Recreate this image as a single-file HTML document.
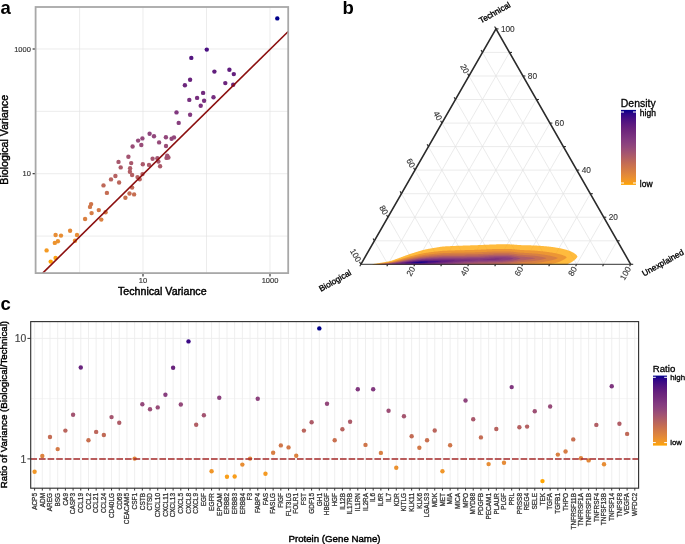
<!DOCTYPE html>
<html lang="en">
<head>
<meta charset="utf-8">
<title>Variance decomposition figure</title>
<style>
html,body{margin:0;padding:0;background:#fff;}
body{width:685px;height:544px;overflow:hidden;}
svg{display:block;font-family:"Liberation Sans", sans-serif;will-change:transform;}
.ga{stroke:#e4e4e4;stroke-width:0.7;}
.gb{stroke:#e2e2e2;stroke-width:0.7;}
.gc{stroke:#ececec;stroke-width:0.85;}
.gc2{stroke:#efefef;stroke-width:0.7;}
.tk{stroke:#222;stroke-width:1.1;}
.tb{stroke:#2b2b2b;stroke-width:1.1;}
.tc{stroke:#333;stroke-width:1.0;}
.ta{font-size:7.5px;fill:#333;stroke:#333;stroke-width:0.15;}
.ti{font-size:10.65px;fill:#000;stroke:#000;stroke-width:0.42;}
.pl{font-size:18.5px;font-weight:bold;fill:#000;}
.tl{font-size:8.3px;fill:#333;stroke:#333;stroke-width:0.12;}
.tn{font-size:8.3px;fill:#000;stroke:#000;stroke-width:0.33;}
.lt{font-size:10.45px;fill:#000;stroke:#000;stroke-width:0.3;}
.ll{font-size:8.5px;fill:#000;stroke:#000;stroke-width:0.3;}
.ltc{font-size:9.65px;fill:#000;stroke:#000;stroke-width:0.3;}
.llc{font-size:7.9px;fill:#000;stroke:#000;stroke-width:0.3;}
.tcy{font-size:10.4px;fill:#444;stroke:#444;stroke-width:0.15;}
.tic{font-size:9.7px;fill:#000;stroke:#000;stroke-width:0.42;}
.tcx{font-size:6.45px;fill:#333;stroke:#333;stroke-width:0.28;}
</style>
</head>
<body>
<svg width="685" height="544" viewBox="0 0 685 544">
<defs>
<linearGradient id="gr" x1="0" y1="0" x2="0" y2="1"><stop offset="0.00" stop-color="#00008b"/><stop offset="0.05" stop-color="#2c0588"/><stop offset="0.10" stop-color="#400c84"/><stop offset="0.15" stop-color="#501481"/><stop offset="0.20" stop-color="#5e1b7f"/><stop offset="0.25" stop-color="#69237d"/><stop offset="0.30" stop-color="#722a7d"/><stop offset="0.35" stop-color="#7a327f"/><stop offset="0.40" stop-color="#833a80"/><stop offset="0.45" stop-color="#8b417e"/><stop offset="0.50" stop-color="#94497a"/><stop offset="0.55" stop-color="#9f5174"/><stop offset="0.60" stop-color="#aa596b"/><stop offset="0.65" stop-color="#b56261"/><stop offset="0.70" stop-color="#c16a56"/><stop offset="0.75" stop-color="#cc734d"/><stop offset="0.80" stop-color="#d57c45"/><stop offset="0.85" stop-color="#df853d"/><stop offset="0.90" stop-color="#e98f32"/><stop offset="0.95" stop-color="#f39924"/><stop offset="1.00" stop-color="#ffa500"/></linearGradient>
<clipPath id="tri"><path d="M360.9,265.0L496.0,28.9L630.7,265.0Z"/></clipPath>
</defs>
<rect width="685" height="544" fill="#fff"/>
<line x1="79.6" y1="7.0" x2="79.6" y2="273.1" class="ga"/>
<line x1="143.0" y1="7.0" x2="143.0" y2="273.1" class="ga"/>
<line x1="206.5" y1="7.0" x2="206.5" y2="273.1" class="ga"/>
<line x1="270.0" y1="7.0" x2="270.0" y2="273.1" class="ga"/>
<line x1="35.6" y1="49.0" x2="288.2" y2="49.0" class="ga"/>
<line x1="35.6" y1="111.35" x2="288.2" y2="111.35" class="ga"/>
<line x1="35.6" y1="173.7" x2="288.2" y2="173.7" class="ga"/>
<line x1="35.6" y1="236.05" x2="288.2" y2="236.05" class="ga"/>
<circle cx="50.7" cy="261.6" r="2.2" fill="#fea403"/>
<circle cx="55.6" cy="257.9" r="2.2" fill="#fba013"/>
<circle cx="46.6" cy="250.4" r="2.2" fill="#f49a23"/>
<circle cx="54.8" cy="242.9" r="2.2" fill="#ed932d"/>
<circle cx="57.9" cy="241.2" r="2.2" fill="#ec922f"/>
<circle cx="75.0" cy="240.7" r="2.2" fill="#eb912f"/>
<circle cx="61.0" cy="235.6" r="2.2" fill="#e78d34"/>
<circle cx="55.6" cy="235.0" r="2.2" fill="#e78d35"/>
<circle cx="77.0" cy="235.0" r="2.2" fill="#e78d35"/>
<circle cx="70.1" cy="230.7" r="2.2" fill="#e38938"/>
<circle cx="101.3" cy="219.6" r="2.2" fill="#da8141"/>
<circle cx="85.1" cy="219.0" r="2.2" fill="#da8041"/>
<circle cx="91.6" cy="213.1" r="2.2" fill="#d57c45"/>
<circle cx="105.6" cy="212.2" r="2.2" fill="#d57b46"/>
<circle cx="98.8" cy="210.1" r="2.2" fill="#d37947"/>
<circle cx="90.0" cy="206.9" r="2.2" fill="#d07749"/>
<circle cx="91.1" cy="204.1" r="2.2" fill="#ce754a"/>
<circle cx="125.4" cy="197.8" r="2.2" fill="#c8714f"/>
<circle cx="134.1" cy="194.4" r="2.2" fill="#c66e51"/>
<circle cx="129.5" cy="193.5" r="2.2" fill="#c56d53"/>
<circle cx="106.9" cy="192.9" r="2.2" fill="#c56d53"/>
<circle cx="132.1" cy="187.6" r="2.2" fill="#c06957"/>
<circle cx="103.5" cy="185.4" r="2.2" fill="#be6859"/>
<circle cx="119.1" cy="182.5" r="2.2" fill="#bb665b"/>
<circle cx="111.0" cy="179.4" r="2.2" fill="#b8645f"/>
<circle cx="139.7" cy="179.3" r="2.2" fill="#b8635f"/>
<circle cx="137.5" cy="177.1" r="2.2" fill="#b66261"/>
<circle cx="115.4" cy="176.0" r="2.2" fill="#b56161"/>
<circle cx="132.1" cy="175.0" r="2.2" fill="#b46063"/>
<circle cx="142.5" cy="174.1" r="2.2" fill="#b36063"/>
<circle cx="129.9" cy="171.8" r="2.2" fill="#b15e65"/>
<circle cx="130.1" cy="168.2" r="2.2" fill="#ad5c68"/>
<circle cx="120.7" cy="167.4" r="2.2" fill="#ac5b69"/>
<circle cx="160.1" cy="166.2" r="2.2" fill="#ab5a69"/>
<circle cx="149.0" cy="164.9" r="2.2" fill="#aa5a6b"/>
<circle cx="142.8" cy="164.3" r="2.2" fill="#aa596b"/>
<circle cx="131.2" cy="163.1" r="2.2" fill="#a8586c"/>
<circle cx="118.5" cy="161.9" r="2.2" fill="#a7586d"/>
<circle cx="158.4" cy="161.6" r="2.2" fill="#a7576d"/>
<circle cx="152.6" cy="158.7" r="2.2" fill="#a5556f"/>
<circle cx="157.4" cy="158.2" r="2.2" fill="#a45570"/>
<circle cx="166.5" cy="157.9" r="2.2" fill="#a45570"/>
<circle cx="168.4" cy="157.5" r="2.2" fill="#a45570"/>
<circle cx="128.4" cy="156.8" r="2.2" fill="#a35471"/>
<circle cx="167.2" cy="155.7" r="2.2" fill="#a15372"/>
<circle cx="132.6" cy="146.5" r="2.2" fill="#994d77"/>
<circle cx="166.0" cy="146.0" r="2.2" fill="#994d77"/>
<circle cx="141.3" cy="145.0" r="2.2" fill="#984c78"/>
<circle cx="159.1" cy="142.4" r="2.2" fill="#964b7a"/>
<circle cx="138.1" cy="140.6" r="2.2" fill="#94497a"/>
<circle cx="171.6" cy="138.7" r="2.2" fill="#93487b"/>
<circle cx="142.4" cy="138.4" r="2.2" fill="#93487b"/>
<circle cx="174.0" cy="137.4" r="2.2" fill="#92477b"/>
<circle cx="165.9" cy="137.2" r="2.2" fill="#92477b"/>
<circle cx="154.0" cy="136.2" r="2.2" fill="#91477c"/>
<circle cx="149.6" cy="133.8" r="2.2" fill="#8f457d"/>
<circle cx="178.7" cy="122.9" r="2.2" fill="#873e7e"/>
<circle cx="190.1" cy="114.7" r="2.2" fill="#82397f"/>
<circle cx="176.5" cy="112.4" r="2.2" fill="#80377f"/>
<circle cx="200.7" cy="105.7" r="2.2" fill="#7b337f"/>
<circle cx="204.1" cy="100.7" r="2.2" fill="#78307f"/>
<circle cx="189.3" cy="99.9" r="2.2" fill="#77307f"/>
<circle cx="197.1" cy="97.9" r="2.2" fill="#772e7e"/>
<circle cx="213.5" cy="97.2" r="2.2" fill="#762e7f"/>
<circle cx="203.1" cy="92.9" r="2.2" fill="#722b7e"/>
<circle cx="184.9" cy="85.3" r="2.2" fill="#6d277d"/>
<circle cx="233.2" cy="84.7" r="2.2" fill="#6d267d"/>
<circle cx="225.3" cy="83.1" r="2.2" fill="#6b257d"/>
<circle cx="190.1" cy="79.7" r="2.2" fill="#69237d"/>
<circle cx="233.8" cy="74.1" r="2.2" fill="#64207e"/>
<circle cx="214.4" cy="71.6" r="2.2" fill="#611e7d"/>
<circle cx="229.4" cy="69.7" r="2.2" fill="#601d7e"/>
<circle cx="191.3" cy="57.9" r="2.2" fill="#541680"/>
<circle cx="206.8" cy="49.6" r="2.2" fill="#4a1082"/>
<circle cx="277.3" cy="18.4" r="2.2" fill="#00008b"/>
<line x1="42.7" y1="273.1" x2="288.2" y2="31.5" stroke="#8b0f0f" stroke-width="1.6"/>
<rect x="35.6" y="7.0" width="252.6" height="266.1" fill="none" stroke="#a8a8a8" stroke-width="1.8"/>
<line x1="32.6" y1="49.0" x2="34.800000000000004" y2="49.0" class="tk"/>
<text x="30.9" y="51.5" class="ta" text-anchor="end">1000</text>
<line x1="32.6" y1="173.7" x2="34.800000000000004" y2="173.7" class="tk"/>
<text x="30.9" y="176.2" class="ta" text-anchor="end">10</text>
<line x1="143.0" y1="273.90000000000003" x2="143.0" y2="276.40000000000003" class="tk"/>
<text x="143.0" y="283.2" class="ta" text-anchor="middle">10</text>
<line x1="270.0" y1="273.90000000000003" x2="270.0" y2="276.40000000000003" class="tk"/>
<text x="270.0" y="283.2" class="ta" text-anchor="middle">1000</text>
<text x="162.3" y="295.3" class="ti" text-anchor="middle">Technical Variance</text>
<text transform="translate(8.0,139.8) rotate(-90)" class="ti" text-anchor="middle">Biological Variance</text>
<text x="0.4" y="13.7" class="pl">a</text>
<line x1="374.4" y1="240.8" x2="617.2" y2="240.8" class="gb"/>
<line x1="374.4" y1="240.8" x2="387.9" y2="264.3" class="gb"/>
<line x1="617.2" y1="240.8" x2="603.7" y2="264.3" class="gb"/>
<line x1="387.9" y1="217.2" x2="603.8" y2="217.2" class="gb"/>
<line x1="387.9" y1="217.2" x2="414.9" y2="264.3" class="gb"/>
<line x1="603.8" y1="217.2" x2="576.7" y2="264.3" class="gb"/>
<line x1="401.4" y1="193.7" x2="590.3" y2="193.7" class="gb"/>
<line x1="401.4" y1="193.7" x2="441.8" y2="264.3" class="gb"/>
<line x1="590.3" y1="193.7" x2="549.8" y2="264.3" class="gb"/>
<line x1="414.9" y1="170.1" x2="576.8" y2="170.1" class="gb"/>
<line x1="414.9" y1="170.1" x2="468.8" y2="264.3" class="gb"/>
<line x1="576.8" y1="170.1" x2="522.8" y2="264.3" class="gb"/>
<line x1="428.4" y1="146.6" x2="563.4" y2="146.6" class="gb"/>
<line x1="428.4" y1="146.6" x2="495.8" y2="264.3" class="gb"/>
<line x1="563.4" y1="146.6" x2="495.8" y2="264.3" class="gb"/>
<line x1="442.0" y1="123.1" x2="549.9" y2="123.1" class="gb"/>
<line x1="442.0" y1="123.1" x2="522.8" y2="264.3" class="gb"/>
<line x1="549.9" y1="123.1" x2="468.8" y2="264.3" class="gb"/>
<line x1="455.5" y1="99.5" x2="536.4" y2="99.5" class="gb"/>
<line x1="455.5" y1="99.5" x2="549.8" y2="264.3" class="gb"/>
<line x1="536.4" y1="99.5" x2="441.8" y2="264.3" class="gb"/>
<line x1="469.0" y1="76.0" x2="522.9" y2="76.0" class="gb"/>
<line x1="469.0" y1="76.0" x2="576.7" y2="264.3" class="gb"/>
<line x1="522.9" y1="76.0" x2="414.9" y2="264.3" class="gb"/>
<line x1="482.5" y1="52.4" x2="509.5" y2="52.4" class="gb"/>
<line x1="482.5" y1="52.4" x2="603.7" y2="264.3" class="gb"/>
<line x1="509.5" y1="52.4" x2="387.9" y2="264.3" class="gb"/>
<g clip-path="url(#tri)">
<path d="M372.5,264.30L373.0,264.13L373.5,264.02L374.0,263.91L374.5,263.82L375.0,263.73L375.5,263.64L376.0,263.55L376.5,263.47L377.0,263.39L377.5,263.31L378.0,263.22L378.5,263.14L379.0,263.06L379.5,262.98L380.0,262.90L380.5,262.82L381.0,262.74L381.5,262.66L382.0,262.57L382.5,262.49L383.0,262.40L383.5,262.32L384.0,262.23L384.5,262.14L385.0,262.06L385.5,261.97L386.0,261.88L386.5,261.79L387.0,261.70L387.5,261.61L388.0,261.51L388.5,261.40L389.0,261.29L389.5,261.17L390.0,261.05L390.5,260.91L391.0,260.78L391.5,260.63L392.0,260.48L392.5,260.32L393.0,260.15L393.5,259.98L394.0,259.80L394.5,259.63L395.0,259.45L395.5,259.28L396.0,259.10L396.5,258.92L397.0,258.74L397.5,258.56L398.0,258.38L398.5,258.20L399.0,258.02L399.5,257.84L400.0,257.65L400.5,257.47L401.0,257.28L401.5,257.10L402.0,256.91L402.5,256.72L403.0,256.54L403.5,256.35L404.0,256.16L404.5,255.97L405.0,255.79L405.5,255.60L406.0,255.42L406.5,255.24L407.0,255.06L407.5,254.88L408.0,254.70L408.5,254.53L409.0,254.35L409.5,254.18L410.0,254.02L410.5,253.85L411.0,253.69L411.5,253.53L412.0,253.37L412.5,253.21L413.0,253.06L413.5,252.90L414.0,252.74L414.5,252.58L415.0,252.43L415.5,252.27L416.0,252.11L416.5,251.95L417.0,251.80L417.5,251.64L418.0,251.48L418.5,251.33L419.0,251.18L419.5,251.02L420.0,250.88L420.5,250.73L421.0,250.59L421.5,250.45L422.0,250.31L422.5,250.17L423.0,250.04L423.5,249.91L424.0,249.79L424.5,249.67L425.0,249.56L425.5,249.45L426.0,249.34L426.5,249.23L427.0,249.13L427.5,249.04L428.0,248.95L428.5,248.86L429.0,248.77L429.5,248.68L430.0,248.60L430.5,248.51L431.0,248.42L431.5,248.34L432.0,248.25L432.5,248.17L433.0,248.08L433.5,248.00L434.0,247.91L434.5,247.83L435.0,247.74L435.5,247.66L436.0,247.58L436.5,247.49L437.0,247.41L437.5,247.33L438.0,247.24L438.5,247.16L439.0,247.08L439.5,247.00L440.0,246.92L440.5,246.84L441.0,246.77L441.5,246.71L442.0,246.65L442.5,246.59L443.0,246.54L443.5,246.50L444.0,246.45L444.5,246.41L445.0,246.38L445.5,246.35L446.0,246.33L446.5,246.30L447.0,246.28L447.5,246.25L448.0,246.23L448.5,246.20L449.0,246.18L449.5,246.16L450.0,246.13L450.5,246.11L451.0,246.08L451.5,246.06L452.0,246.04L452.5,246.01L453.0,245.99L453.5,245.97L454.0,245.95L454.5,245.92L455.0,245.90L455.5,245.88L456.0,245.86L456.5,245.83L457.0,245.81L457.5,245.79L458.0,245.77L458.5,245.75L459.0,245.74L459.5,245.72L460.0,245.70L460.5,245.69L461.0,245.67L461.5,245.66L462.0,245.64L462.5,245.63L463.0,245.61L463.5,245.60L464.0,245.58L464.5,245.56L465.0,245.54L465.5,245.53L466.0,245.51L466.5,245.49L467.0,245.48L467.5,245.46L468.0,245.44L468.5,245.43L469.0,245.41L469.5,245.40L470.0,245.38L470.5,245.36L471.0,245.35L471.5,245.33L472.0,245.32L472.5,245.30L473.0,245.29L473.5,245.27L474.0,245.26L474.5,245.24L475.0,245.22L475.5,245.21L476.0,245.19L476.5,245.18L477.0,245.16L477.5,245.14L478.0,245.12L478.5,245.10L479.0,245.08L479.5,245.05L480.0,245.03L480.5,245.00L481.0,244.98L481.5,244.96L482.0,244.93L482.5,244.91L483.0,244.89L483.5,244.87L484.0,244.85L484.5,244.83L485.0,244.81L485.5,244.79L486.0,244.77L486.5,244.75L487.0,244.73L487.5,244.71L488.0,244.69L488.5,244.66L489.0,244.64L489.5,244.62L490.0,244.60L490.5,244.58L491.0,244.56L491.5,244.54L492.0,244.52L492.5,244.50L493.0,244.48L493.5,244.46L494.0,244.44L494.5,244.42L495.0,244.40L495.5,244.39L496.0,244.38L496.5,244.37L497.0,244.36L497.5,244.35L498.0,244.35L498.5,244.34L499.0,244.34L499.5,244.34L500.0,244.34L500.5,244.34L501.0,244.33L501.5,244.33L502.0,244.33L502.5,244.33L503.0,244.32L503.5,244.32L504.0,244.32L504.5,244.32L505.0,244.32L505.5,244.31L506.0,244.31L506.5,244.31L507.0,244.31L507.5,244.31L508.0,244.32L508.5,244.33L509.0,244.34L509.5,244.35L510.0,244.37L510.5,244.40L511.0,244.42L511.5,244.45L512.0,244.48L512.5,244.51L513.0,244.55L513.5,244.58L514.0,244.61L514.5,244.65L515.0,244.69L515.5,244.72L516.0,244.76L516.5,244.80L517.0,244.84L517.5,244.88L518.0,244.92L518.5,244.96L519.0,245.00L519.5,245.03L520.0,245.06L520.5,245.09L521.0,245.11L521.5,245.13L522.0,245.14L522.5,245.15L523.0,245.16L523.5,245.18L524.0,245.19L524.5,245.20L525.0,245.21L525.5,245.22L526.0,245.24L526.5,245.25L527.0,245.26L527.5,245.27L528.0,245.29L528.5,245.30L529.0,245.31L529.5,245.33L530.0,245.34L530.5,245.36L531.0,245.37L531.5,245.39L532.0,245.40L532.5,245.42L533.0,245.44L533.5,245.45L534.0,245.47L534.5,245.49L535.0,245.51L535.5,245.54L536.0,245.56L536.5,245.59L537.0,245.62L537.5,245.65L538.0,245.68L538.5,245.72L539.0,245.75L539.5,245.79L540.0,245.82L540.5,245.86L541.0,245.90L541.5,245.94L542.0,245.97L542.5,246.01L543.0,246.05L543.5,246.10L544.0,246.14L544.5,246.18L545.0,246.23L545.5,246.27L546.0,246.32L546.5,246.36L547.0,246.41L547.5,246.46L548.0,246.51L548.5,246.56L549.0,246.61L549.5,246.66L550.0,246.72L550.5,246.78L551.0,246.84L551.5,246.90L552.0,246.96L552.5,247.03L553.0,247.10L553.5,247.17L554.0,247.25L554.5,247.32L555.0,247.40L555.5,247.47L556.0,247.55L556.5,247.63L557.0,247.71L557.5,247.79L558.0,247.88L558.5,247.96L559.0,248.06L559.5,248.15L560.0,248.25L560.5,248.35L561.0,248.46L561.5,248.57L562.0,248.67L562.5,248.78L563.0,248.90L563.5,249.02L564.0,249.15L564.5,249.28L565.0,249.42L565.5,249.56L566.0,249.71L566.5,249.86L567.0,250.02L567.5,250.18L568.0,250.34L568.5,250.51L569.0,250.68L569.5,250.87L570.0,251.06L570.5,251.26L571.0,251.48L571.5,251.70L572.0,251.94L572.5,252.20L573.0,252.47L573.5,252.76L574.0,253.07L574.5,253.40L575.0,253.76L575.5,254.15L576.0,254.59L576.5,255.09L577.0,255.69L577.5,256.50L577.5,256.50L577.0,257.38L576.5,258.05L576.0,258.63L575.5,259.15L575.0,259.61L574.5,260.05L574.0,260.46L573.5,260.84L573.0,261.21L572.5,261.55L572.0,261.89L571.5,262.20L571.0,262.51L570.5,262.80L570.0,263.08L569.5,263.35L569.0,263.61L568.5,263.87L568.0,264.12L567.5,264.90L567.0,264.90L566.5,264.90L566.0,264.90L565.5,264.90L565.0,264.90L564.5,264.90L564.0,264.90L563.5,264.90L563.0,264.90L562.5,264.90L562.0,264.90L561.5,264.90L561.0,264.90L560.5,264.90L560.0,264.90L559.5,264.90L559.0,264.90L558.5,264.90L558.0,264.90L557.5,264.90L557.0,264.90L556.5,264.90L556.0,264.90L555.5,264.90L555.0,264.90L554.5,264.90L554.0,264.90L553.5,264.90L553.0,264.90L552.5,264.90L552.0,264.90L551.5,264.90L551.0,264.90L550.5,264.90L550.0,264.90L549.5,264.90L549.0,264.90L548.5,264.90L548.0,264.90L547.5,264.90L547.0,264.90L546.5,264.90L546.0,264.90L545.5,264.90L545.0,264.90L544.5,264.90L544.0,264.90L543.5,264.90L543.0,264.90L542.5,264.90L542.0,264.90L541.5,264.90L541.0,264.90L540.5,264.90L540.0,264.90L539.5,264.90L539.0,264.90L538.5,264.90L538.0,264.90L537.5,264.90L537.0,264.90L536.5,264.90L536.0,264.90L535.5,264.90L535.0,264.90L534.5,264.90L534.0,264.90L533.5,264.90L533.0,264.90L532.5,264.90L532.0,264.90L531.5,264.90L531.0,264.90L530.5,264.90L530.0,264.90L529.5,264.90L529.0,264.90L528.5,264.90L528.0,264.90L527.5,264.90L527.0,264.90L526.5,264.90L526.0,264.90L525.5,264.90L525.0,264.90L524.5,264.90L524.0,264.90L523.5,264.90L523.0,264.90L522.5,264.90L522.0,264.90L521.5,264.90L521.0,264.90L520.5,264.90L520.0,264.90L519.5,264.90L519.0,264.90L518.5,264.90L518.0,264.90L517.5,264.90L517.0,264.90L516.5,264.90L516.0,264.90L515.5,264.90L515.0,264.90L514.5,264.90L514.0,264.90L513.5,264.90L513.0,264.90L512.5,264.90L512.0,264.90L511.5,264.90L511.0,264.90L510.5,264.90L510.0,264.90L509.5,264.90L509.0,264.90L508.5,264.90L508.0,264.90L507.5,264.90L507.0,264.90L506.5,264.90L506.0,264.90L505.5,264.90L505.0,264.90L504.5,264.90L504.0,264.90L503.5,264.90L503.0,264.90L502.5,264.90L502.0,264.90L501.5,264.90L501.0,264.90L500.5,264.90L500.0,264.90L499.5,264.90L499.0,264.90L498.5,264.90L498.0,264.90L497.5,264.90L497.0,264.90L496.5,264.90L496.0,264.90L495.5,264.90L495.0,264.90L494.5,264.90L494.0,264.90L493.5,264.90L493.0,264.90L492.5,264.90L492.0,264.90L491.5,264.90L491.0,264.90L490.5,264.90L490.0,264.90L489.5,264.90L489.0,264.90L488.5,264.90L488.0,264.90L487.5,264.90L487.0,264.90L486.5,264.90L486.0,264.90L485.5,264.90L485.0,264.90L484.5,264.90L484.0,264.90L483.5,264.90L483.0,264.90L482.5,264.90L482.0,264.90L481.5,264.90L481.0,264.90L480.5,264.90L480.0,264.90L479.5,264.90L479.0,264.90L478.5,264.90L478.0,264.90L477.5,264.90L477.0,264.90L476.5,264.90L476.0,264.90L475.5,264.90L475.0,264.90L474.5,264.90L474.0,264.90L473.5,264.90L473.0,264.90L472.5,264.90L472.0,264.90L471.5,264.90L471.0,264.90L470.5,264.90L470.0,264.90L469.5,264.90L469.0,264.90L468.5,264.90L468.0,264.90L467.5,264.90L467.0,264.90L466.5,264.90L466.0,264.90L465.5,264.90L465.0,264.90L464.5,264.90L464.0,264.90L463.5,264.90L463.0,264.90L462.5,264.90L462.0,264.90L461.5,264.90L461.0,264.90L460.5,264.90L460.0,264.90L459.5,264.90L459.0,264.90L458.5,264.90L458.0,264.90L457.5,264.90L457.0,264.90L456.5,264.90L456.0,264.90L455.5,264.90L455.0,264.90L454.5,264.90L454.0,264.90L453.5,264.90L453.0,264.90L452.5,264.90L452.0,264.90L451.5,264.90L451.0,264.90L450.5,264.90L450.0,264.90L449.5,264.90L449.0,264.90L448.5,264.90L448.0,264.90L447.5,264.90L447.0,264.90L446.5,264.90L446.0,264.90L445.5,264.90L445.0,264.90L444.5,264.90L444.0,264.90L443.5,264.90L443.0,264.90L442.5,264.90L442.0,264.90L441.5,264.90L441.0,264.90L440.5,264.90L440.0,264.90L439.5,264.90L439.0,264.90L438.5,264.90L438.0,264.90L437.5,264.90L437.0,264.90L436.5,264.90L436.0,264.90L435.5,264.90L435.0,264.90L434.5,264.90L434.0,264.90L433.5,264.90L433.0,264.90L432.5,264.90L432.0,264.90L431.5,264.90L431.0,264.90L430.5,264.90L430.0,264.90L429.5,264.90L429.0,264.90L428.5,264.90L428.0,264.90L427.5,264.90L427.0,264.90L426.5,264.90L426.0,264.90L425.5,264.90L425.0,264.90L424.5,264.90L424.0,264.90L423.5,264.90L423.0,264.90L422.5,264.90L422.0,264.90L421.5,264.90L421.0,264.90L420.5,264.90L420.0,264.90L419.5,264.90L419.0,264.90L418.5,264.90L418.0,264.90L417.5,264.90L417.0,264.90L416.5,264.90L416.0,264.90L415.5,264.90L415.0,264.90L414.5,264.90L414.0,264.90L413.5,264.90L413.0,264.90L412.5,264.90L412.0,264.90L411.5,264.90L411.0,264.90L410.5,264.90L410.0,264.90L409.5,264.90L409.0,264.90L408.5,264.90L408.0,264.90L407.5,264.90L407.0,264.90L406.5,264.90L406.0,264.90L405.5,264.90L405.0,264.90L404.5,264.90L404.0,264.90L403.5,264.90L403.0,264.90L402.5,264.90L402.0,264.90L401.5,264.90L401.0,264.90L400.5,264.90L400.0,264.90L399.5,264.90L399.0,264.90L398.5,264.90L398.0,264.90L397.5,264.90L397.0,264.90L396.5,264.90L396.0,264.90L395.5,264.90L395.0,264.90L394.5,264.90L394.0,264.90L393.5,264.90L393.0,264.90L392.5,264.90L392.0,264.90L391.5,264.90L391.0,264.90L390.5,264.90L390.0,264.90L389.5,264.90L389.0,264.90L388.5,264.90L388.0,264.90L387.5,264.90L387.0,264.90L386.5,264.90L386.0,264.90L385.5,264.90L385.0,264.90L384.5,264.90L384.0,264.90L383.5,264.90L383.0,264.90L382.5,264.90L382.0,264.90L381.5,264.90L381.0,264.90L380.5,264.90L380.0,264.90L379.5,264.90L379.0,264.90L378.5,264.90L378.0,264.90L377.5,264.90L377.0,264.90L376.5,264.90L376.0,264.90L375.5,264.90L375.0,264.90L374.5,264.90L374.0,264.90L373.5,264.90L373.0,264.90L372.5,264.90Z" fill="#ffa500" fill-opacity="0.76"/>
<path d="M375.5,264.14L376.0,264.04L376.5,263.96L377.0,263.88L377.5,263.81L378.0,263.74L378.5,263.67L379.0,263.60L379.5,263.53L380.0,263.46L380.5,263.40L381.0,263.33L381.5,263.26L382.0,263.19L382.5,263.12L383.0,263.05L383.5,262.98L384.0,262.91L384.5,262.84L385.0,262.77L385.5,262.70L386.0,262.63L386.5,262.55L387.0,262.48L387.5,262.40L388.0,262.32L388.5,262.24L389.0,262.15L389.5,262.06L390.0,261.96L390.5,261.86L391.0,261.75L391.5,261.64L392.0,261.52L392.5,261.40L393.0,261.27L393.5,261.14L394.0,261.00L394.5,260.87L395.0,260.73L395.5,260.60L396.0,260.46L396.5,260.32L397.0,260.19L397.5,260.05L398.0,259.91L398.5,259.77L399.0,259.62L399.5,259.48L400.0,259.34L400.5,259.19L401.0,259.05L401.5,258.90L402.0,258.75L402.5,258.61L403.0,258.46L403.5,258.31L404.0,258.17L404.5,258.02L405.0,257.87L405.5,257.73L406.0,257.58L406.5,257.44L407.0,257.30L407.5,257.15L408.0,257.01L408.5,256.87L409.0,256.73L409.5,256.60L410.0,256.46L410.5,256.33L411.0,256.21L411.5,256.08L412.0,255.95L412.5,255.83L413.0,255.71L413.5,255.58L414.0,255.46L414.5,255.34L415.0,255.21L415.5,255.09L416.0,254.96L416.5,254.84L417.0,254.71L417.5,254.59L418.0,254.47L418.5,254.35L419.0,254.23L419.5,254.11L420.0,254.00L420.5,253.89L421.0,253.78L421.5,253.67L422.0,253.57L422.5,253.47L423.0,253.37L423.5,253.28L424.0,253.19L424.5,253.10L425.0,253.01L425.5,252.93L426.0,252.85L426.5,252.77L427.0,252.70L427.5,252.63L428.0,252.56L428.5,252.49L429.0,252.43L429.5,252.36L430.0,252.30L430.5,252.24L431.0,252.17L431.5,252.11L432.0,252.05L432.5,251.99L433.0,251.92L433.5,251.86L434.0,251.80L434.5,251.74L435.0,251.68L435.5,251.62L436.0,251.56L436.5,251.50L437.0,251.44L437.5,251.38L438.0,251.32L438.5,251.26L439.0,251.20L439.5,251.14L440.0,251.08L440.5,251.03L441.0,250.98L441.5,250.93L442.0,250.89L442.5,250.85L443.0,250.82L443.5,250.78L444.0,250.75L444.5,250.73L445.0,250.70L445.5,250.68L446.0,250.66L446.5,250.65L447.0,250.63L447.5,250.61L448.0,250.59L448.5,250.58L449.0,250.56L449.5,250.54L450.0,250.53L450.5,250.51L451.0,250.49L451.5,250.48L452.0,250.46L452.5,250.45L453.0,250.43L453.5,250.42L454.0,250.40L454.5,250.39L455.0,250.37L455.5,250.36L456.0,250.34L456.5,250.33L457.0,250.31L457.5,250.30L458.0,250.29L458.5,250.27L459.0,250.26L459.5,250.25L460.0,250.24L460.5,250.23L461.0,250.22L461.5,250.21L462.0,250.20L462.5,250.19L463.0,250.18L463.5,250.16L464.0,250.15L464.5,250.13L465.0,250.12L465.5,250.11L466.0,250.09L466.5,250.08L467.0,250.06L467.5,250.05L468.0,250.03L468.5,250.02L469.0,250.01L469.5,250.00L470.0,249.98L470.5,249.97L471.0,249.96L471.5,249.94L472.0,249.93L472.5,249.92L473.0,249.90L473.5,249.89L474.0,249.88L474.5,249.87L475.0,249.85L475.5,249.84L476.0,249.83L476.5,249.81L477.0,249.80L477.5,249.78L478.0,249.76L478.5,249.74L479.0,249.72L479.5,249.70L480.0,249.67L480.5,249.65L481.0,249.62L481.5,249.60L482.0,249.58L482.5,249.55L483.0,249.53L483.5,249.51L484.0,249.49L484.5,249.46L485.0,249.44L485.5,249.42L486.0,249.40L486.5,249.37L487.0,249.35L487.5,249.33L488.0,249.31L488.5,249.29L489.0,249.26L489.5,249.24L490.0,249.22L490.5,249.20L491.0,249.17L491.5,249.15L492.0,249.13L492.5,249.11L493.0,249.09L493.5,249.06L494.0,249.04L494.5,249.02L495.0,249.00L495.5,248.99L496.0,248.98L496.5,248.96L497.0,248.96L497.5,248.95L498.0,248.94L498.5,248.94L499.0,248.94L499.5,248.94L500.0,248.94L500.5,248.93L501.0,248.93L501.5,248.93L502.0,248.93L502.5,248.93L503.0,248.92L503.5,248.92L504.0,248.92L504.5,248.92L505.0,248.92L505.5,248.92L506.0,248.92L506.5,248.92L507.0,248.92L507.5,248.92L508.0,248.93L508.5,248.94L509.0,248.96L509.5,248.98L510.0,249.01L510.5,249.04L511.0,249.07L511.5,249.11L512.0,249.15L512.5,249.19L513.0,249.23L513.5,249.28L514.0,249.32L514.5,249.37L515.0,249.42L515.5,249.47L516.0,249.52L516.5,249.57L517.0,249.62L517.5,249.67L518.0,249.72L518.5,249.78L519.0,249.82L519.5,249.87L520.0,249.91L520.5,249.95L521.0,249.98L521.5,250.01L522.0,250.03L522.5,250.05L523.0,250.07L523.5,250.09L524.0,250.11L524.5,250.13L525.0,250.15L525.5,250.17L526.0,250.19L526.5,250.22L527.0,250.24L527.5,250.26L528.0,250.28L528.5,250.30L529.0,250.33L529.5,250.35L530.0,250.37L530.5,250.40L531.0,250.42L531.5,250.45L532.0,250.47L532.5,250.50L533.0,250.53L533.5,250.55L534.0,250.58L534.5,250.61L535.0,250.64L535.5,250.68L536.0,250.72L536.5,250.75L537.0,250.80L537.5,250.84L538.0,250.89L538.5,250.93L539.0,250.98L539.5,251.03L540.0,251.08L540.5,251.13L541.0,251.18L541.5,251.24L542.0,251.29L542.5,251.34L543.0,251.40L543.5,251.46L544.0,251.51L544.5,251.57L545.0,251.63L545.5,251.69L546.0,251.76L546.5,251.82L547.0,251.89L547.5,251.95L548.0,252.02L548.5,252.09L549.0,252.16L549.5,252.23L550.0,252.31L550.5,252.38L551.0,252.46L551.5,252.54L552.0,252.62L552.5,252.71L553.0,252.80L553.5,252.89L554.0,252.98L554.5,253.08L555.0,253.17L555.5,253.26L556.0,253.36L556.5,253.46L557.0,253.56L557.5,253.67L558.0,253.78L558.5,253.89L559.0,254.02L559.5,254.15L560.0,254.28L560.5,254.43L561.0,254.58L561.5,254.73L562.0,254.89L562.5,255.06L563.0,255.24L563.5,255.43L564.0,255.63L564.5,255.86L565.0,256.10L565.5,256.36L566.0,256.66L566.5,257.01L566.5,257.70L566.0,258.14L565.5,258.52L565.0,258.86L564.5,259.19L564.0,259.50L563.5,259.80L563.0,260.07L562.5,260.34L562.0,260.60L561.5,260.84L561.0,261.08L560.5,261.30L560.0,261.51L559.5,261.72L559.0,261.91L558.5,262.09L558.0,262.26L557.5,262.41L557.0,262.56L556.5,262.70L556.0,262.84L555.5,262.96L555.0,263.08L554.5,263.19L554.0,263.30L553.5,263.40L553.0,263.50L552.5,263.60L552.0,263.70L551.5,263.79L551.0,263.88L550.5,263.97L550.0,264.06L549.5,264.14L549.0,264.22L548.5,264.90L548.0,264.90L547.5,264.90L547.0,264.90L546.5,264.90L546.0,264.90L545.5,264.90L545.0,264.90L544.5,264.90L544.0,264.90L543.5,264.90L543.0,264.90L542.5,264.90L542.0,264.90L541.5,264.90L541.0,264.90L540.5,264.90L540.0,264.90L539.5,264.90L539.0,264.90L538.5,264.90L538.0,264.90L537.5,264.90L537.0,264.90L536.5,264.90L536.0,264.90L535.5,264.90L535.0,264.90L534.5,264.90L534.0,264.90L533.5,264.90L533.0,264.90L532.5,264.90L532.0,264.90L531.5,264.90L531.0,264.90L530.5,264.90L530.0,264.90L529.5,264.90L529.0,264.90L528.5,264.90L528.0,264.90L527.5,264.90L527.0,264.90L526.5,264.90L526.0,264.90L525.5,264.90L525.0,264.90L524.5,264.90L524.0,264.90L523.5,264.90L523.0,264.90L522.5,264.90L522.0,264.90L521.5,264.90L521.0,264.90L520.5,264.90L520.0,264.90L519.5,264.90L519.0,264.90L518.5,264.90L518.0,264.90L517.5,264.90L517.0,264.90L516.5,264.90L516.0,264.90L515.5,264.90L515.0,264.90L514.5,264.90L514.0,264.90L513.5,264.90L513.0,264.90L512.5,264.90L512.0,264.90L511.5,264.90L511.0,264.90L510.5,264.90L510.0,264.90L509.5,264.90L509.0,264.90L508.5,264.90L508.0,264.90L507.5,264.90L507.0,264.90L506.5,264.90L506.0,264.90L505.5,264.90L505.0,264.90L504.5,264.90L504.0,264.90L503.5,264.90L503.0,264.90L502.5,264.90L502.0,264.90L501.5,264.90L501.0,264.90L500.5,264.90L500.0,264.90L499.5,264.90L499.0,264.90L498.5,264.90L498.0,264.90L497.5,264.90L497.0,264.90L496.5,264.90L496.0,264.90L495.5,264.90L495.0,264.90L494.5,264.90L494.0,264.90L493.5,264.90L493.0,264.90L492.5,264.90L492.0,264.90L491.5,264.90L491.0,264.90L490.5,264.90L490.0,264.90L489.5,264.90L489.0,264.90L488.5,264.90L488.0,264.90L487.5,264.90L487.0,264.90L486.5,264.90L486.0,264.90L485.5,264.90L485.0,264.90L484.5,264.90L484.0,264.90L483.5,264.90L483.0,264.90L482.5,264.90L482.0,264.90L481.5,264.90L481.0,264.90L480.5,264.90L480.0,264.90L479.5,264.90L479.0,264.90L478.5,264.90L478.0,264.90L477.5,264.90L477.0,264.90L476.5,264.90L476.0,264.90L475.5,264.90L475.0,264.90L474.5,264.90L474.0,264.90L473.5,264.90L473.0,264.90L472.5,264.90L472.0,264.90L471.5,264.90L471.0,264.90L470.5,264.90L470.0,264.90L469.5,264.90L469.0,264.90L468.5,264.90L468.0,264.90L467.5,264.90L467.0,264.90L466.5,264.90L466.0,264.90L465.5,264.90L465.0,264.90L464.5,264.90L464.0,264.90L463.5,264.90L463.0,264.90L462.5,264.90L462.0,264.90L461.5,264.90L461.0,264.90L460.5,264.90L460.0,264.90L459.5,264.90L459.0,264.90L458.5,264.90L458.0,264.90L457.5,264.90L457.0,264.90L456.5,264.90L456.0,264.90L455.5,264.90L455.0,264.90L454.5,264.90L454.0,264.90L453.5,264.90L453.0,264.90L452.5,264.90L452.0,264.90L451.5,264.90L451.0,264.90L450.5,264.90L450.0,264.90L449.5,264.90L449.0,264.90L448.5,264.90L448.0,264.90L447.5,264.90L447.0,264.90L446.5,264.90L446.0,264.90L445.5,264.90L445.0,264.90L444.5,264.90L444.0,264.90L443.5,264.90L443.0,264.90L442.5,264.90L442.0,264.90L441.5,264.90L441.0,264.90L440.5,264.90L440.0,264.90L439.5,264.90L439.0,264.90L438.5,264.90L438.0,264.90L437.5,264.90L437.0,264.90L436.5,264.90L436.0,264.90L435.5,264.90L435.0,264.90L434.5,264.90L434.0,264.90L433.5,264.90L433.0,264.90L432.5,264.90L432.0,264.90L431.5,264.90L431.0,264.90L430.5,264.90L430.0,264.90L429.5,264.90L429.0,264.90L428.5,264.90L428.0,264.90L427.5,264.90L427.0,264.90L426.5,264.90L426.0,264.90L425.5,264.90L425.0,264.90L424.5,264.90L424.0,264.90L423.5,264.90L423.0,264.90L422.5,264.90L422.0,264.90L421.5,264.90L421.0,264.90L420.5,264.90L420.0,264.90L419.5,264.90L419.0,264.90L418.5,264.90L418.0,264.90L417.5,264.90L417.0,264.90L416.5,264.90L416.0,264.90L415.5,264.90L415.0,264.90L414.5,264.90L414.0,264.90L413.5,264.90L413.0,264.90L412.5,264.90L412.0,264.90L411.5,264.90L411.0,264.90L410.5,264.90L410.0,264.90L409.5,264.90L409.0,264.90L408.5,264.90L408.0,264.90L407.5,264.90L407.0,264.90L406.5,264.90L406.0,264.90L405.5,264.90L405.0,264.90L404.5,264.90L404.0,264.90L403.5,264.90L403.0,264.90L402.5,264.90L402.0,264.90L401.5,264.90L401.0,264.90L400.5,264.90L400.0,264.90L399.5,264.90L399.0,264.90L398.5,264.90L398.0,264.90L397.5,264.90L397.0,264.90L396.5,264.90L396.0,264.90L395.5,264.90L395.0,264.90L394.5,264.90L394.0,264.90L393.5,264.90L393.0,264.90L392.5,264.90L392.0,264.90L391.5,264.90L391.0,264.90L390.5,264.90L390.0,264.90L389.5,264.90L389.0,264.90L388.5,264.90L388.0,264.90L387.5,264.90L387.0,264.90L386.5,264.90L386.0,264.90L385.5,264.90L385.0,264.90L384.5,264.90L384.0,264.90L383.5,264.90L383.0,264.90L382.5,264.90L382.0,264.90L381.5,264.90L381.0,264.90L380.5,264.90L380.0,264.90L379.5,264.90L379.0,264.90L378.5,264.90L378.0,264.90L377.5,264.90L377.0,264.90L376.5,264.90L376.0,264.90L375.5,264.90Z" fill="#e98f32" fill-opacity="0.85"/>
<path d="M378.5,264.02L379.0,263.95L379.5,263.88L380.0,263.81L380.5,263.75L381.0,263.68L381.5,263.62L382.0,263.56L382.5,263.49L383.0,263.43L383.5,263.37L384.0,263.30L384.5,263.24L385.0,263.17L385.5,263.11L386.0,263.05L386.5,262.98L387.0,262.92L387.5,262.85L388.0,262.78L388.5,262.70L389.0,262.63L389.5,262.55L390.0,262.47L390.5,262.38L391.0,262.29L391.5,262.19L392.0,262.10L392.5,261.99L393.0,261.88L393.5,261.77L394.0,261.66L394.5,261.55L395.0,261.43L395.5,261.32L396.0,261.20L396.5,261.09L397.0,260.97L397.5,260.85L398.0,260.73L398.5,260.61L399.0,260.49L399.5,260.37L400.0,260.25L400.5,260.12L401.0,260.00L401.5,259.87L402.0,259.75L402.5,259.62L403.0,259.50L403.5,259.37L404.0,259.25L404.5,259.12L405.0,258.99L405.5,258.87L406.0,258.74L406.5,258.62L407.0,258.50L407.5,258.37L408.0,258.25L408.5,258.13L409.0,258.01L409.5,257.89L410.0,257.78L410.5,257.66L411.0,257.55L411.5,257.44L412.0,257.34L412.5,257.23L413.0,257.13L413.5,257.02L414.0,256.91L414.5,256.81L415.0,256.70L415.5,256.60L416.0,256.49L416.5,256.38L417.0,256.28L417.5,256.17L418.0,256.07L418.5,255.96L419.0,255.86L419.5,255.77L420.0,255.67L420.5,255.58L421.0,255.49L421.5,255.40L422.0,255.32L422.5,255.24L423.0,255.16L423.5,255.08L424.0,255.00L424.5,254.93L425.0,254.86L425.5,254.80L426.0,254.73L426.5,254.67L427.0,254.61L427.5,254.55L428.0,254.49L428.5,254.44L429.0,254.39L429.5,254.34L430.0,254.29L430.5,254.24L431.0,254.18L431.5,254.13L432.0,254.08L432.5,254.04L433.0,253.99L433.5,253.94L434.0,253.89L434.5,253.84L435.0,253.79L435.5,253.74L436.0,253.69L436.5,253.65L437.0,253.60L437.5,253.55L438.0,253.51L438.5,253.46L439.0,253.41L439.5,253.37L440.0,253.32L440.5,253.28L441.0,253.25L441.5,253.21L442.0,253.18L442.5,253.15L443.0,253.12L443.5,253.09L444.0,253.07L444.5,253.05L445.0,253.03L445.5,253.02L446.0,253.00L446.5,252.99L447.0,252.98L447.5,252.96L448.0,252.95L448.5,252.94L449.0,252.93L449.5,252.91L450.0,252.90L450.5,252.89L451.0,252.88L451.5,252.87L452.0,252.86L452.5,252.84L453.0,252.83L453.5,252.82L454.0,252.81L454.5,252.80L455.0,252.79L455.5,252.78L456.0,252.77L456.5,252.76L457.0,252.75L457.5,252.74L458.0,252.73L458.5,252.72L459.0,252.72L459.5,252.71L460.0,252.71L460.5,252.70L461.0,252.69L461.5,252.68L462.0,252.68L462.5,252.67L463.0,252.66L463.5,252.65L464.0,252.63L464.5,252.62L465.0,252.61L465.5,252.59L466.0,252.58L466.5,252.57L467.0,252.56L467.5,252.54L468.0,252.53L468.5,252.52L469.0,252.51L469.5,252.50L470.0,252.49L470.5,252.47L471.0,252.46L471.5,252.45L472.0,252.44L472.5,252.43L473.0,252.42L473.5,252.41L474.0,252.40L474.5,252.39L475.0,252.37L475.5,252.36L476.0,252.35L476.5,252.34L477.0,252.33L477.5,252.31L478.0,252.29L478.5,252.27L479.0,252.25L479.5,252.23L480.0,252.20L480.5,252.18L481.0,252.15L481.5,252.13L482.0,252.10L482.5,252.08L483.0,252.06L483.5,252.03L484.0,252.01L484.5,251.99L485.0,251.96L485.5,251.94L486.0,251.92L486.5,251.89L487.0,251.87L487.5,251.85L488.0,251.82L488.5,251.80L489.0,251.78L489.5,251.75L490.0,251.73L490.5,251.71L491.0,251.68L491.5,251.66L492.0,251.64L492.5,251.61L493.0,251.59L493.5,251.57L494.0,251.55L494.5,251.52L495.0,251.51L495.5,251.49L496.0,251.48L496.5,251.47L497.0,251.46L497.5,251.45L498.0,251.45L498.5,251.44L499.0,251.44L499.5,251.44L500.0,251.44L500.5,251.44L501.0,251.44L501.5,251.44L502.0,251.44L502.5,251.43L503.0,251.43L503.5,251.43L504.0,251.43L504.5,251.43L505.0,251.43L505.5,251.43L506.0,251.43L506.5,251.43L507.0,251.43L507.5,251.44L508.0,251.45L508.5,251.46L509.0,251.48L509.5,251.51L510.0,251.54L510.5,251.58L511.0,251.62L511.5,251.66L512.0,251.71L512.5,251.76L513.0,251.81L513.5,251.86L514.0,251.92L514.5,251.97L515.0,252.03L515.5,252.09L516.0,252.14L516.5,252.20L517.0,252.26L517.5,252.33L518.0,252.39L518.5,252.45L519.0,252.51L519.5,252.56L520.0,252.61L520.5,252.66L521.0,252.70L521.5,252.73L522.0,252.76L522.5,252.79L523.0,252.82L523.5,252.84L524.0,252.87L524.5,252.90L525.0,252.92L525.5,252.95L526.0,252.98L526.5,253.01L527.0,253.04L527.5,253.06L528.0,253.09L528.5,253.12L529.0,253.15L529.5,253.18L530.0,253.22L530.5,253.25L531.0,253.28L531.5,253.31L532.0,253.35L532.5,253.38L533.0,253.41L533.5,253.45L534.0,253.48L534.5,253.52L535.0,253.57L535.5,253.61L536.0,253.66L536.5,253.71L537.0,253.76L537.5,253.82L538.0,253.87L538.5,253.93L539.0,253.99L539.5,254.05L540.0,254.12L540.5,254.18L541.0,254.25L541.5,254.31L542.0,254.38L542.5,254.45L543.0,254.52L543.5,254.60L544.0,254.67L544.5,254.75L545.0,254.82L545.5,254.90L546.0,254.98L546.5,255.07L547.0,255.15L547.5,255.24L548.0,255.33L548.5,255.42L549.0,255.52L549.5,255.61L550.0,255.71L550.5,255.82L551.0,255.92L551.5,256.03L552.0,256.15L552.5,256.26L553.0,256.39L553.5,256.51L554.0,256.65L554.5,256.78L555.0,256.92L555.5,257.07L556.0,257.23L556.5,257.40L557.0,257.59L557.5,257.83L557.5,258.25L557.0,258.53L556.5,258.76L556.0,258.97L555.5,259.15L555.0,259.32L554.5,259.48L554.0,259.64L553.5,259.78L553.0,259.92L552.5,260.05L552.0,260.18L551.5,260.30L551.0,260.42L550.5,260.54L550.0,260.65L549.5,260.76L549.0,260.87L548.5,260.97L548.0,261.07L547.5,261.17L547.0,261.27L546.5,261.37L546.0,261.46L545.5,261.55L545.0,261.64L544.5,261.73L544.0,261.82L543.5,261.90L543.0,261.98L542.5,262.06L542.0,262.14L541.5,262.22L541.0,262.30L540.5,262.38L540.0,262.45L539.5,262.52L539.0,262.59L538.5,262.67L538.0,262.73L537.5,262.80L537.0,262.87L536.5,262.93L536.0,262.99L535.5,263.05L535.0,263.10L534.5,263.16L534.0,263.21L533.5,263.25L533.0,263.30L532.5,263.34L532.0,263.39L531.5,263.43L531.0,263.47L530.5,263.51L530.0,263.56L529.5,263.60L529.0,263.64L528.5,263.68L528.0,263.72L527.5,263.76L527.0,263.80L526.5,263.84L526.0,263.87L525.5,263.91L525.0,263.95L524.5,263.99L524.0,264.02L523.5,264.06L523.0,264.10L522.5,264.13L522.0,264.17L521.5,264.21L521.0,264.26L520.5,264.90L520.0,264.90L519.5,264.90L519.0,264.90L518.5,264.90L518.0,264.90L517.5,264.90L517.0,264.90L516.5,264.90L516.0,264.90L515.5,264.90L515.0,264.90L514.5,264.90L514.0,264.90L513.5,264.90L513.0,264.90L512.5,264.90L512.0,264.90L511.5,264.90L511.0,264.90L510.5,264.90L510.0,264.90L509.5,264.90L509.0,264.90L508.5,264.90L508.0,264.90L507.5,264.90L507.0,264.90L506.5,264.90L506.0,264.90L505.5,264.90L505.0,264.90L504.5,264.90L504.0,264.90L503.5,264.90L503.0,264.90L502.5,264.90L502.0,264.90L501.5,264.90L501.0,264.90L500.5,264.90L500.0,264.90L499.5,264.90L499.0,264.90L498.5,264.90L498.0,264.90L497.5,264.90L497.0,264.90L496.5,264.90L496.0,264.90L495.5,264.90L495.0,264.90L494.5,264.90L494.0,264.90L493.5,264.90L493.0,264.90L492.5,264.90L492.0,264.90L491.5,264.90L491.0,264.90L490.5,264.90L490.0,264.90L489.5,264.90L489.0,264.90L488.5,264.90L488.0,264.90L487.5,264.90L487.0,264.90L486.5,264.90L486.0,264.90L485.5,264.90L485.0,264.90L484.5,264.90L484.0,264.90L483.5,264.90L483.0,264.90L482.5,264.90L482.0,264.90L481.5,264.90L481.0,264.90L480.5,264.90L480.0,264.90L479.5,264.90L479.0,264.90L478.5,264.90L478.0,264.90L477.5,264.90L477.0,264.90L476.5,264.90L476.0,264.90L475.5,264.90L475.0,264.90L474.5,264.90L474.0,264.90L473.5,264.90L473.0,264.90L472.5,264.90L472.0,264.90L471.5,264.90L471.0,264.90L470.5,264.90L470.0,264.90L469.5,264.90L469.0,264.90L468.5,264.90L468.0,264.90L467.5,264.90L467.0,264.90L466.5,264.90L466.0,264.90L465.5,264.90L465.0,264.90L464.5,264.90L464.0,264.90L463.5,264.90L463.0,264.90L462.5,264.90L462.0,264.90L461.5,264.90L461.0,264.90L460.5,264.90L460.0,264.90L459.5,264.90L459.0,264.90L458.5,264.90L458.0,264.90L457.5,264.90L457.0,264.90L456.5,264.90L456.0,264.90L455.5,264.90L455.0,264.90L454.5,264.90L454.0,264.90L453.5,264.90L453.0,264.90L452.5,264.90L452.0,264.90L451.5,264.90L451.0,264.90L450.5,264.90L450.0,264.90L449.5,264.90L449.0,264.90L448.5,264.90L448.0,264.90L447.5,264.90L447.0,264.90L446.5,264.90L446.0,264.90L445.5,264.90L445.0,264.90L444.5,264.90L444.0,264.90L443.5,264.90L443.0,264.90L442.5,264.90L442.0,264.90L441.5,264.90L441.0,264.90L440.5,264.90L440.0,264.90L439.5,264.90L439.0,264.90L438.5,264.90L438.0,264.90L437.5,264.90L437.0,264.90L436.5,264.90L436.0,264.90L435.5,264.90L435.0,264.90L434.5,264.90L434.0,264.90L433.5,264.90L433.0,264.90L432.5,264.90L432.0,264.90L431.5,264.90L431.0,264.90L430.5,264.90L430.0,264.90L429.5,264.90L429.0,264.90L428.5,264.90L428.0,264.90L427.5,264.90L427.0,264.90L426.5,264.90L426.0,264.90L425.5,264.90L425.0,264.90L424.5,264.90L424.0,264.90L423.5,264.90L423.0,264.90L422.5,264.90L422.0,264.90L421.5,264.90L421.0,264.90L420.5,264.90L420.0,264.90L419.5,264.90L419.0,264.90L418.5,264.90L418.0,264.90L417.5,264.90L417.0,264.90L416.5,264.90L416.0,264.90L415.5,264.90L415.0,264.90L414.5,264.90L414.0,264.90L413.5,264.90L413.0,264.90L412.5,264.90L412.0,264.90L411.5,264.90L411.0,264.90L410.5,264.90L410.0,264.90L409.5,264.90L409.0,264.90L408.5,264.90L408.0,264.90L407.5,264.90L407.0,264.90L406.5,264.90L406.0,264.90L405.5,264.90L405.0,264.90L404.5,264.90L404.0,264.90L403.5,264.90L403.0,264.90L402.5,264.90L402.0,264.90L401.5,264.90L401.0,264.90L400.5,264.90L400.0,264.90L399.5,264.90L399.0,264.90L398.5,264.90L398.0,264.90L397.5,264.90L397.0,264.90L396.5,264.90L396.0,264.90L395.5,264.90L395.0,264.90L394.5,264.90L394.0,264.90L393.5,264.90L393.0,264.90L392.5,264.90L392.0,264.90L391.5,264.90L391.0,264.90L390.5,264.90L390.0,264.90L389.5,264.90L389.0,264.90L388.5,264.90L388.0,264.90L387.5,264.90L387.0,264.90L386.5,264.90L386.0,264.90L385.5,264.90L385.0,264.90L384.5,264.90L384.0,264.90L383.5,264.90L383.0,264.90L382.5,264.90L382.0,264.90L381.5,264.90L381.0,264.90L380.5,264.90L380.0,264.90L379.5,264.90L379.0,264.90L378.5,264.90Z" fill="#d57c45" fill-opacity="0.85"/>
<path d="M381.5,263.95L382.0,263.87L382.5,263.81L383.0,263.74L383.5,263.68L384.0,263.61L384.5,263.55L385.0,263.49L385.5,263.43L386.0,263.37L386.5,263.31L387.0,263.25L387.5,263.18L388.0,263.12L388.5,263.05L389.0,262.98L389.5,262.91L390.0,262.84L390.5,262.76L391.0,262.68L391.5,262.60L392.0,262.52L392.5,262.43L393.0,262.33L393.5,262.24L394.0,262.14L394.5,262.04L395.0,261.94L395.5,261.84L396.0,261.74L396.5,261.64L397.0,261.54L397.5,261.43L398.0,261.33L398.5,261.23L399.0,261.12L399.5,261.01L400.0,260.90L400.5,260.80L401.0,260.69L401.5,260.58L402.0,260.46L402.5,260.35L403.0,260.24L403.5,260.13L404.0,260.02L404.5,259.91L405.0,259.80L405.5,259.69L406.0,259.58L406.5,259.47L407.0,259.36L407.5,259.25L408.0,259.14L408.5,259.03L409.0,258.92L409.5,258.82L410.0,258.71L410.5,258.61L411.0,258.52L411.5,258.42L412.0,258.32L412.5,258.23L413.0,258.14L413.5,258.04L414.0,257.95L414.5,257.86L415.0,257.77L415.5,257.67L416.0,257.58L416.5,257.48L417.0,257.39L417.5,257.30L418.0,257.20L418.5,257.12L419.0,257.03L419.5,256.94L420.0,256.86L420.5,256.78L421.0,256.71L421.5,256.63L422.0,256.56L422.5,256.49L423.0,256.43L423.5,256.36L424.0,256.30L424.5,256.24L425.0,256.18L425.5,256.13L426.0,256.07L426.5,256.02L427.0,255.97L427.5,255.92L428.0,255.88L428.5,255.83L429.0,255.79L429.5,255.75L430.0,255.70L430.5,255.66L431.0,255.62L431.5,255.58L432.0,255.54L432.5,255.50L433.0,255.46L433.5,255.42L434.0,255.38L434.5,255.34L435.0,255.30L435.5,255.26L436.0,255.22L436.5,255.19L437.0,255.15L437.5,255.11L438.0,255.07L438.5,255.04L439.0,255.00L439.5,254.96L440.0,254.93L440.5,254.90L441.0,254.87L441.5,254.84L442.0,254.81L442.5,254.79L443.0,254.77L443.5,254.75L444.0,254.73L444.5,254.72L445.0,254.70L445.5,254.69L446.0,254.68L446.5,254.67L447.0,254.66L447.5,254.65L448.0,254.64L448.5,254.64L449.0,254.63L449.5,254.62L450.0,254.61L450.5,254.60L451.0,254.59L451.5,254.58L452.0,254.58L452.5,254.57L453.0,254.56L453.5,254.55L454.0,254.55L454.5,254.54L455.0,254.53L455.5,254.53L456.0,254.52L456.5,254.52L457.0,254.51L457.5,254.50L458.0,254.50L458.5,254.49L459.0,254.49L459.5,254.49L460.0,254.49L460.5,254.48L461.0,254.48L461.5,254.47L462.0,254.47L462.5,254.46L463.0,254.45L463.5,254.44L464.0,254.43L464.5,254.42L465.0,254.41L465.5,254.40L466.0,254.38L466.5,254.37L467.0,254.36L467.5,254.35L468.0,254.34L468.5,254.33L469.0,254.32L469.5,254.31L470.0,254.30L470.5,254.29L471.0,254.28L471.5,254.27L472.0,254.26L472.5,254.25L473.0,254.24L473.5,254.23L474.0,254.22L474.5,254.21L475.0,254.21L475.5,254.20L476.0,254.19L476.5,254.17L477.0,254.16L477.5,254.15L478.0,254.13L478.5,254.11L479.0,254.09L479.5,254.07L480.0,254.04L480.5,254.02L481.0,253.99L481.5,253.97L482.0,253.94L482.5,253.92L483.0,253.89L483.5,253.87L484.0,253.84L484.5,253.82L485.0,253.80L485.5,253.77L486.0,253.75L486.5,253.72L487.0,253.70L487.5,253.67L488.0,253.65L488.5,253.63L489.0,253.60L489.5,253.58L490.0,253.55L490.5,253.53L491.0,253.50L491.5,253.48L492.0,253.46L492.5,253.43L493.0,253.41L493.5,253.38L494.0,253.36L494.5,253.34L495.0,253.32L495.5,253.30L496.0,253.29L496.5,253.28L497.0,253.27L497.5,253.26L498.0,253.26L498.5,253.26L499.0,253.26L499.5,253.26L500.0,253.26L500.5,253.26L501.0,253.26L501.5,253.26L502.0,253.26L502.5,253.26L503.0,253.26L503.5,253.26L504.0,253.26L504.5,253.26L505.0,253.26L505.5,253.26L506.0,253.26L506.5,253.26L507.0,253.26L507.5,253.27L508.0,253.28L508.5,253.30L509.0,253.33L509.5,253.36L510.0,253.39L510.5,253.43L511.0,253.48L511.5,253.53L512.0,253.59L512.5,253.65L513.0,253.71L513.5,253.77L514.0,253.83L514.5,253.89L515.0,253.96L515.5,254.02L516.0,254.09L516.5,254.16L517.0,254.23L517.5,254.30L518.0,254.38L518.5,254.45L519.0,254.51L519.5,254.58L520.0,254.64L520.5,254.69L521.0,254.74L521.5,254.78L522.0,254.82L522.5,254.86L523.0,254.89L523.5,254.92L524.0,254.96L524.5,254.99L525.0,255.02L525.5,255.06L526.0,255.09L526.5,255.13L527.0,255.17L527.5,255.20L528.0,255.24L528.5,255.28L529.0,255.32L529.5,255.36L530.0,255.40L530.5,255.44L531.0,255.48L531.5,255.52L532.0,255.56L532.5,255.61L533.0,255.65L533.5,255.70L534.0,255.75L534.5,255.80L535.0,255.85L535.5,255.91L536.0,255.97L536.5,256.03L537.0,256.10L537.5,256.18L538.0,256.25L538.5,256.33L539.0,256.41L539.5,256.49L540.0,256.58L540.5,256.67L541.0,256.76L541.5,256.85L542.0,256.95L542.5,257.05L543.0,257.16L543.5,257.27L544.0,257.38L544.5,257.51L545.0,257.64L545.5,257.78L546.0,257.94L546.5,258.15L546.5,258.29L546.0,258.50L545.5,258.68L545.0,258.83L544.5,258.97L544.0,259.10L543.5,259.23L543.0,259.35L542.5,259.47L542.0,259.58L541.5,259.68L541.0,259.79L540.5,259.89L540.0,259.99L539.5,260.08L539.0,260.18L538.5,260.27L538.0,260.36L537.5,260.44L537.0,260.53L536.5,260.60L536.0,260.68L535.5,260.75L535.0,260.82L534.5,260.88L534.0,260.94L533.5,261.00L533.0,261.06L532.5,261.11L532.0,261.17L531.5,261.22L531.0,261.27L530.5,261.32L530.0,261.37L529.5,261.42L529.0,261.47L528.5,261.52L528.0,261.57L527.5,261.62L527.0,261.67L526.5,261.71L526.0,261.76L525.5,261.80L525.0,261.85L524.5,261.89L524.0,261.94L523.5,261.98L523.0,262.03L522.5,262.07L522.0,262.11L521.5,262.16L521.0,262.22L520.5,262.27L520.0,262.34L519.5,262.41L519.0,262.48L518.5,262.56L518.0,262.64L517.5,262.72L517.0,262.81L516.5,262.89L516.0,262.97L515.5,263.04L515.0,263.12L514.5,263.20L514.0,263.27L513.5,263.34L513.0,263.41L512.5,263.48L512.0,263.55L511.5,263.62L511.0,263.70L510.5,263.76L510.0,263.82L509.5,263.88L509.0,263.93L508.5,263.98L508.0,264.03L507.5,264.07L507.0,264.11L506.5,264.14L506.0,264.18L505.5,264.21L505.0,264.25L504.5,264.29L504.0,264.90L503.5,264.90L503.0,264.90L502.5,264.90L502.0,264.90L501.5,264.90L501.0,264.90L500.5,264.90L500.0,264.90L499.5,264.90L499.0,264.90L498.5,264.90L498.0,264.90L497.5,264.90L497.0,264.90L496.5,264.90L496.0,264.90L495.5,264.90L495.0,264.90L494.5,264.90L494.0,264.90L493.5,264.90L493.0,264.90L492.5,264.90L492.0,264.90L491.5,264.90L491.0,264.90L490.5,264.90L490.0,264.90L489.5,264.90L489.0,264.90L488.5,264.90L488.0,264.90L487.5,264.90L487.0,264.90L486.5,264.90L486.0,264.90L485.5,264.90L485.0,264.90L484.5,264.90L484.0,264.90L483.5,264.90L483.0,264.90L482.5,264.90L482.0,264.90L481.5,264.90L481.0,264.90L480.5,264.90L480.0,264.90L479.5,264.90L479.0,264.90L478.5,264.90L478.0,264.90L477.5,264.90L477.0,264.90L476.5,264.90L476.0,264.90L475.5,264.90L475.0,264.90L474.5,264.90L474.0,264.90L473.5,264.90L473.0,264.90L472.5,264.90L472.0,264.90L471.5,264.90L471.0,264.90L470.5,264.90L470.0,264.90L469.5,264.90L469.0,264.90L468.5,264.90L468.0,264.90L467.5,264.90L467.0,264.90L466.5,264.90L466.0,264.90L465.5,264.90L465.0,264.90L464.5,264.90L464.0,264.90L463.5,264.90L463.0,264.90L462.5,264.90L462.0,264.90L461.5,264.90L461.0,264.90L460.5,264.90L460.0,264.90L459.5,264.90L459.0,264.90L458.5,264.90L458.0,264.90L457.5,264.90L457.0,264.90L456.5,264.90L456.0,264.90L455.5,264.90L455.0,264.90L454.5,264.90L454.0,264.90L453.5,264.90L453.0,264.90L452.5,264.90L452.0,264.90L451.5,264.90L451.0,264.90L450.5,264.90L450.0,264.90L449.5,264.90L449.0,264.90L448.5,264.90L448.0,264.90L447.5,264.90L447.0,264.90L446.5,264.90L446.0,264.90L445.5,264.90L445.0,264.90L444.5,264.90L444.0,264.90L443.5,264.90L443.0,264.90L442.5,264.90L442.0,264.90L441.5,264.90L441.0,264.90L440.5,264.90L440.0,264.90L439.5,264.90L439.0,264.90L438.5,264.90L438.0,264.90L437.5,264.90L437.0,264.90L436.5,264.90L436.0,264.90L435.5,264.90L435.0,264.90L434.5,264.90L434.0,264.90L433.5,264.90L433.0,264.90L432.5,264.90L432.0,264.90L431.5,264.90L431.0,264.90L430.5,264.90L430.0,264.90L429.5,264.90L429.0,264.90L428.5,264.90L428.0,264.90L427.5,264.90L427.0,264.90L426.5,264.90L426.0,264.90L425.5,264.90L425.0,264.90L424.5,264.90L424.0,264.90L423.5,264.90L423.0,264.90L422.5,264.90L422.0,264.90L421.5,264.90L421.0,264.90L420.5,264.90L420.0,264.90L419.5,264.90L419.0,264.90L418.5,264.90L418.0,264.90L417.5,264.90L417.0,264.90L416.5,264.90L416.0,264.90L415.5,264.90L415.0,264.90L414.5,264.90L414.0,264.90L413.5,264.90L413.0,264.90L412.5,264.90L412.0,264.90L411.5,264.90L411.0,264.90L410.5,264.90L410.0,264.90L409.5,264.90L409.0,264.90L408.5,264.90L408.0,264.90L407.5,264.90L407.0,264.90L406.5,264.90L406.0,264.90L405.5,264.90L405.0,264.90L404.5,264.90L404.0,264.90L403.5,264.90L403.0,264.90L402.5,264.90L402.0,264.90L401.5,264.90L401.0,264.90L400.5,264.90L400.0,264.90L399.5,264.90L399.0,264.90L398.5,264.90L398.0,264.90L397.5,264.90L397.0,264.90L396.5,264.90L396.0,264.90L395.5,264.90L395.0,264.90L394.5,264.90L394.0,264.90L393.5,264.90L393.0,264.90L392.5,264.90L392.0,264.90L391.5,264.90L391.0,264.90L390.5,264.90L390.0,264.90L389.5,264.90L389.0,264.90L388.5,264.90L388.0,264.90L387.5,264.90L387.0,264.90L386.5,264.90L386.0,264.90L385.5,264.90L385.0,264.90L384.5,264.90L384.0,264.90L383.5,264.90L383.0,264.90L382.5,264.90L382.0,264.27L381.5,264.09Z" fill="#c16a56" fill-opacity="0.85"/>
<path d="M385.0,263.80L385.5,263.73L386.0,263.67L386.5,263.60L387.0,263.54L387.5,263.48L388.0,263.42L388.5,263.35L389.0,263.29L389.5,263.22L390.0,263.16L390.5,263.09L391.0,263.02L391.5,262.94L392.0,262.87L392.5,262.79L393.0,262.70L393.5,262.62L394.0,262.53L394.5,262.44L395.0,262.36L395.5,262.27L396.0,262.18L396.5,262.09L397.0,262.00L397.5,261.91L398.0,261.82L398.5,261.72L399.0,261.63L399.5,261.53L400.0,261.44L400.5,261.34L401.0,261.24L401.5,261.14L402.0,261.04L402.5,260.94L403.0,260.84L403.5,260.74L404.0,260.64L404.5,260.54L405.0,260.44L405.5,260.34L406.0,260.24L406.5,260.14L407.0,260.04L407.5,259.95L408.0,259.85L408.5,259.75L409.0,259.65L409.5,259.56L410.0,259.46L410.5,259.37L411.0,259.28L411.5,259.20L412.0,259.11L412.5,259.03L413.0,258.94L413.5,258.86L414.0,258.78L414.5,258.69L415.0,258.61L415.5,258.53L416.0,258.44L416.5,258.36L417.0,258.28L417.5,258.19L418.0,258.11L418.5,258.03L419.0,257.95L419.5,257.88L420.0,257.81L420.5,257.74L421.0,257.67L421.5,257.61L422.0,257.55L422.5,257.49L423.0,257.44L423.5,257.38L424.0,257.33L424.5,257.28L425.0,257.23L425.5,257.19L426.0,257.14L426.5,257.10L427.0,257.05L427.5,257.01L428.0,256.98L428.5,256.94L429.0,256.90L429.5,256.87L430.0,256.83L430.5,256.80L431.0,256.77L431.5,256.73L432.0,256.70L432.5,256.67L433.0,256.64L433.5,256.60L434.0,256.57L434.5,256.54L435.0,256.51L435.5,256.48L436.0,256.45L436.5,256.42L437.0,256.39L437.5,256.36L438.0,256.33L438.5,256.30L439.0,256.27L439.5,256.24L440.0,256.22L440.5,256.19L441.0,256.17L441.5,256.15L442.0,256.13L442.5,256.11L443.0,256.09L443.5,256.08L444.0,256.07L444.5,256.06L445.0,256.05L445.5,256.04L446.0,256.03L446.5,256.03L447.0,256.02L447.5,256.01L448.0,256.01L448.5,256.00L449.0,256.00L449.5,255.99L450.0,255.99L450.5,255.98L451.0,255.98L451.5,255.97L452.0,255.97L452.5,255.96L453.0,255.96L453.5,255.95L454.0,255.95L454.5,255.95L455.0,255.94L455.5,255.94L456.0,255.94L456.5,255.94L457.0,255.93L457.5,255.93L458.0,255.93L458.5,255.93L459.0,255.93L459.5,255.93L460.0,255.93L460.5,255.93L461.0,255.93L461.5,255.93L462.0,255.92L462.5,255.92L463.0,255.91L463.5,255.90L464.0,255.89L464.5,255.88L465.0,255.87L465.5,255.86L466.0,255.85L466.5,255.84L467.0,255.83L467.5,255.83L468.0,255.82L468.5,255.81L469.0,255.80L469.5,255.79L470.0,255.78L470.5,255.77L471.0,255.77L471.5,255.76L472.0,255.75L472.5,255.74L473.0,255.73L473.5,255.73L474.0,255.72L474.5,255.71L475.0,255.70L475.5,255.69L476.0,255.69L476.5,255.68L477.0,255.66L477.5,255.65L478.0,255.63L478.5,255.62L479.0,255.59L479.5,255.57L480.0,255.55L480.5,255.52L481.0,255.50L481.5,255.47L482.0,255.44L482.5,255.42L483.0,255.39L483.5,255.37L484.0,255.34L484.5,255.32L485.0,255.29L485.5,255.27L486.0,255.24L486.5,255.22L487.0,255.19L487.5,255.17L488.0,255.14L488.5,255.12L489.0,255.09L489.5,255.07L490.0,255.04L490.5,255.02L491.0,254.99L491.5,254.97L492.0,254.94L492.5,254.92L493.0,254.89L493.5,254.87L494.0,254.84L494.5,254.82L495.0,254.80L495.5,254.78L496.0,254.77L496.5,254.76L497.0,254.75L497.5,254.74L498.0,254.74L498.5,254.74L499.0,254.74L499.5,254.74L500.0,254.74L500.5,254.74L501.0,254.75L501.5,254.75L502.0,254.75L502.5,254.75L503.0,254.75L503.5,254.75L504.0,254.75L504.5,254.75L505.0,254.75L505.5,254.76L506.0,254.76L506.5,254.76L507.0,254.77L507.5,254.78L508.0,254.79L508.5,254.82L509.0,254.84L509.5,254.88L510.0,254.92L510.5,254.97L511.0,255.02L511.5,255.08L512.0,255.15L512.5,255.21L513.0,255.28L513.5,255.35L514.0,255.43L514.5,255.50L515.0,255.58L515.5,255.65L516.0,255.73L516.5,255.82L517.0,255.90L517.5,255.99L518.0,256.07L518.5,256.16L519.0,256.24L519.5,256.32L520.0,256.39L520.5,256.46L521.0,256.52L521.5,256.58L522.0,256.63L522.5,256.67L523.0,256.72L523.5,256.76L524.0,256.81L524.5,256.85L525.0,256.90L525.5,256.95L526.0,257.00L526.5,257.05L527.0,257.10L527.5,257.15L528.0,257.20L528.5,257.26L529.0,257.31L529.5,257.37L530.0,257.43L530.5,257.49L531.0,257.56L531.5,257.62L532.0,257.69L532.5,257.76L533.0,257.84L533.5,257.92L534.0,258.01L534.5,258.11L535.0,258.24L535.0,258.43L534.5,258.57L534.0,258.68L533.5,258.78L533.0,258.87L532.5,258.96L532.0,259.04L531.5,259.12L531.0,259.20L530.5,259.27L530.0,259.34L529.5,259.41L529.0,259.48L528.5,259.54L528.0,259.61L527.5,259.67L527.0,259.74L526.5,259.80L526.0,259.86L525.5,259.92L525.0,259.97L524.5,260.03L524.0,260.09L523.5,260.14L523.0,260.20L522.5,260.25L522.0,260.31L521.5,260.37L521.0,260.43L520.5,260.51L520.0,260.58L519.5,260.67L519.0,260.75L518.5,260.85L518.0,260.94L517.5,261.04L517.0,261.14L516.5,261.23L516.0,261.32L515.5,261.41L515.0,261.50L514.5,261.59L514.0,261.67L513.5,261.75L513.0,261.84L512.5,261.92L512.0,262.00L511.5,262.07L511.0,262.15L510.5,262.23L510.0,262.30L509.5,262.36L509.0,262.42L508.5,262.47L508.0,262.52L507.5,262.56L507.0,262.60L506.5,262.64L506.0,262.68L505.5,262.72L505.0,262.75L504.5,262.79L504.0,262.83L503.5,262.87L503.0,262.91L502.5,262.95L502.0,262.99L501.5,263.03L501.0,263.07L500.5,263.11L500.0,263.15L499.5,263.19L499.0,263.23L498.5,263.27L498.0,263.31L497.5,263.34L497.0,263.38L496.5,263.41L496.0,263.44L495.5,263.46L495.0,263.48L494.5,263.50L494.0,263.52L493.5,263.53L493.0,263.55L492.5,263.56L492.0,263.57L491.5,263.59L491.0,263.60L490.5,263.61L490.0,263.63L489.5,263.64L489.0,263.66L488.5,263.67L488.0,263.68L487.5,263.70L487.0,263.71L486.5,263.72L486.0,263.74L485.5,263.75L485.0,263.76L484.5,263.78L484.0,263.79L483.5,263.80L483.0,263.82L482.5,263.83L482.0,263.84L481.5,263.86L481.0,263.87L480.5,263.88L480.0,263.89L479.5,263.91L479.0,263.92L478.5,263.94L478.0,263.96L477.5,263.98L477.0,264.01L476.5,264.04L476.0,264.06L475.5,264.10L475.0,264.13L474.5,264.16L474.0,264.19L473.5,264.22L473.0,264.25L472.5,264.28L472.0,264.90L471.5,264.90L471.0,264.90L470.5,264.90L470.0,264.90L469.5,264.90L469.0,264.90L468.5,264.90L468.0,264.90L467.5,264.90L467.0,264.90L466.5,264.90L466.0,264.90L465.5,264.90L465.0,264.90L464.5,264.90L464.0,264.90L463.5,264.90L463.0,264.90L462.5,264.90L462.0,264.90L461.5,264.90L461.0,264.90L460.5,264.90L460.0,264.90L459.5,264.90L459.0,264.90L458.5,264.90L458.0,264.90L457.5,264.90L457.0,264.90L456.5,264.90L456.0,264.90L455.5,264.90L455.0,264.90L454.5,264.90L454.0,264.90L453.5,264.90L453.0,264.90L452.5,264.90L452.0,264.90L451.5,264.90L451.0,264.90L450.5,264.90L450.0,264.90L449.5,264.90L449.0,264.90L448.5,264.90L448.0,264.90L447.5,264.90L447.0,264.90L446.5,264.90L446.0,264.90L445.5,264.90L445.0,264.90L444.5,264.90L444.0,264.90L443.5,264.90L443.0,264.90L442.5,264.90L442.0,264.90L441.5,264.90L441.0,264.90L440.5,264.90L440.0,264.90L439.5,264.90L439.0,264.90L438.5,264.90L438.0,264.90L437.5,264.90L437.0,264.90L436.5,264.90L436.0,264.90L435.5,264.90L435.0,264.90L434.5,264.90L434.0,264.90L433.5,264.90L433.0,264.90L432.5,264.90L432.0,264.90L431.5,264.90L431.0,264.90L430.5,264.90L430.0,264.90L429.5,264.90L429.0,264.90L428.5,264.90L428.0,264.90L427.5,264.90L427.0,264.90L426.5,264.90L426.0,264.90L425.5,264.90L425.0,264.90L424.5,264.90L424.0,264.90L423.5,264.90L423.0,264.90L422.5,264.90L422.0,264.90L421.5,264.90L421.0,264.90L420.5,264.90L420.0,264.90L419.5,264.90L419.0,264.90L418.5,264.90L418.0,264.90L417.5,264.90L417.0,264.90L416.5,264.90L416.0,264.90L415.5,264.90L415.0,264.90L414.5,264.90L414.0,264.90L413.5,264.90L413.0,264.90L412.5,264.90L412.0,264.90L411.5,264.90L411.0,264.90L410.5,264.90L410.0,264.90L409.5,264.90L409.0,264.90L408.5,264.90L408.0,264.90L407.5,264.90L407.0,264.90L406.5,264.90L406.0,264.90L405.5,264.90L405.0,264.90L404.5,264.90L404.0,264.90L403.5,264.90L403.0,264.90L402.5,264.90L402.0,264.90L401.5,264.90L401.0,264.90L400.5,264.90L400.0,264.90L399.5,264.90L399.0,264.90L398.5,264.90L398.0,264.90L397.5,264.90L397.0,264.90L396.5,264.90L396.0,264.90L395.5,264.90L395.0,264.90L394.5,264.90L394.0,264.90L393.5,264.90L393.0,264.90L392.5,264.90L392.0,264.90L391.5,264.90L391.0,264.90L390.5,264.90L390.0,264.90L389.5,264.90L389.0,264.90L388.5,264.90L388.0,264.90L387.5,264.90L387.0,264.90L386.5,264.90L386.0,264.25L385.5,264.14L385.0,264.00Z" fill="#aa596b" fill-opacity="0.85"/>
<path d="M388.5,263.67L389.0,263.60L389.5,263.53L390.0,263.46L390.5,263.39L391.0,263.33L391.5,263.26L392.0,263.19L392.5,263.11L393.0,263.04L393.5,262.96L394.0,262.88L394.5,262.80L395.0,262.72L395.5,262.64L396.0,262.56L396.5,262.48L397.0,262.40L397.5,262.32L398.0,262.24L398.5,262.15L399.0,262.07L399.5,261.98L400.0,261.90L400.5,261.81L401.0,261.72L401.5,261.63L402.0,261.54L402.5,261.45L403.0,261.36L403.5,261.27L404.0,261.17L404.5,261.08L405.0,260.99L405.5,260.90L406.0,260.81L406.5,260.72L407.0,260.63L407.5,260.54L408.0,260.45L408.5,260.36L409.0,260.27L409.5,260.18L410.0,260.10L410.5,260.02L411.0,259.94L411.5,259.86L412.0,259.78L412.5,259.70L413.0,259.63L413.5,259.55L414.0,259.48L414.5,259.40L415.0,259.33L415.5,259.25L416.0,259.18L416.5,259.10L417.0,259.03L417.5,258.95L418.0,258.88L418.5,258.81L419.0,258.74L419.5,258.67L420.0,258.61L420.5,258.55L421.0,258.49L421.5,258.44L422.0,258.39L422.5,258.34L423.0,258.30L423.5,258.25L424.0,258.21L424.5,258.17L425.0,258.12L425.5,258.09L426.0,258.05L426.5,258.01L427.0,257.98L427.5,257.94L428.0,257.91L428.5,257.88L429.0,257.85L429.5,257.83L430.0,257.80L430.5,257.77L431.0,257.74L431.5,257.72L432.0,257.69L432.5,257.66L433.0,257.64L433.5,257.61L434.0,257.59L434.5,257.56L435.0,257.54L435.5,257.52L436.0,257.49L436.5,257.47L437.0,257.45L437.5,257.42L438.0,257.40L438.5,257.38L439.0,257.36L439.5,257.34L440.0,257.32L440.5,257.30L441.0,257.28L441.5,257.27L442.0,257.26L442.5,257.24L443.0,257.23L443.5,257.22L444.0,257.21L444.5,257.21L445.0,257.20L445.5,257.20L446.0,257.19L446.5,257.19L447.0,257.19L447.5,257.18L448.0,257.18L448.5,257.18L449.0,257.18L449.5,257.17L450.0,257.17L450.5,257.17L451.0,257.17L451.5,257.17L452.0,257.17L452.5,257.17L453.0,257.17L453.5,257.17L454.0,257.17L454.5,257.17L455.0,257.17L455.5,257.17L456.0,257.17L456.5,257.17L457.0,257.17L457.5,257.17L458.0,257.18L458.5,257.18L459.0,257.18L459.5,257.19L460.0,257.19L460.5,257.19L461.0,257.19L461.5,257.19L462.0,257.19L462.5,257.19L463.0,257.19L463.5,257.18L464.0,257.17L464.5,257.17L465.0,257.16L465.5,257.15L466.0,257.14L466.5,257.13L467.0,257.13L467.5,257.12L468.0,257.11L468.5,257.10L469.0,257.10L469.5,257.09L470.0,257.08L470.5,257.08L471.0,257.07L471.5,257.06L472.0,257.06L472.5,257.05L473.0,257.05L473.5,257.04L474.0,257.03L474.5,257.03L475.0,257.02L475.5,257.02L476.0,257.01L476.5,257.00L477.0,256.99L477.5,256.98L478.0,256.96L478.5,256.94L479.0,256.92L479.5,256.90L480.0,256.88L480.5,256.85L481.0,256.82L481.5,256.80L482.0,256.77L482.5,256.74L483.0,256.72L483.5,256.69L484.0,256.66L484.5,256.64L485.0,256.61L485.5,256.58L486.0,256.56L486.5,256.53L487.0,256.51L487.5,256.48L488.0,256.45L488.5,256.43L489.0,256.40L489.5,256.37L490.0,256.35L490.5,256.32L491.0,256.30L491.5,256.27L492.0,256.24L492.5,256.22L493.0,256.19L493.5,256.17L494.0,256.14L494.5,256.12L495.0,256.10L495.5,256.08L496.0,256.07L496.5,256.06L497.0,256.05L497.5,256.05L498.0,256.04L498.5,256.05L499.0,256.05L499.5,256.05L500.0,256.05L500.5,256.06L501.0,256.06L501.5,256.06L502.0,256.06L502.5,256.07L503.0,256.07L503.5,256.07L504.0,256.08L504.5,256.08L505.0,256.08L505.5,256.09L506.0,256.09L506.5,256.10L507.0,256.11L507.5,256.12L508.0,256.14L508.5,256.17L509.0,256.20L509.5,256.24L510.0,256.29L510.5,256.35L511.0,256.41L511.5,256.49L512.0,256.56L512.5,256.64L513.0,256.73L513.5,256.81L514.0,256.90L514.5,257.00L515.0,257.09L515.5,257.19L516.0,257.29L516.5,257.40L517.0,257.51L517.5,257.63L518.0,257.76L518.5,257.89L519.0,258.01L519.5,258.14L520.0,258.28L520.5,258.44L520.5,258.52L520.0,258.70L519.5,258.84L519.0,258.98L518.5,259.12L518.0,259.26L517.5,259.39L517.0,259.52L516.5,259.65L516.0,259.76L515.5,259.88L515.0,259.99L514.5,260.09L514.0,260.19L513.5,260.29L513.0,260.39L512.5,260.49L512.0,260.58L511.5,260.67L511.0,260.76L510.5,260.85L510.0,260.92L509.5,261.00L509.0,261.06L508.5,261.12L508.0,261.17L507.5,261.22L507.0,261.27L506.5,261.30L506.0,261.34L505.5,261.38L505.0,261.43L504.5,261.47L504.0,261.51L503.5,261.55L503.0,261.59L502.5,261.64L502.0,261.68L501.5,261.72L501.0,261.76L500.5,261.80L500.0,261.84L499.5,261.88L499.0,261.92L498.5,261.96L498.0,262.01L497.5,262.04L497.0,262.08L496.5,262.11L496.0,262.14L495.5,262.16L495.0,262.18L494.5,262.20L494.0,262.22L493.5,262.23L493.0,262.24L492.5,262.26L492.0,262.27L491.5,262.28L491.0,262.29L490.5,262.31L490.0,262.32L489.5,262.33L489.0,262.34L488.5,262.36L488.0,262.37L487.5,262.38L487.0,262.39L486.5,262.41L486.0,262.42L485.5,262.43L485.0,262.44L484.5,262.46L484.0,262.47L483.5,262.48L483.0,262.49L482.5,262.51L482.0,262.52L481.5,262.53L481.0,262.54L480.5,262.55L480.0,262.56L479.5,262.58L479.0,262.59L478.5,262.61L478.0,262.63L477.5,262.66L477.0,262.68L476.5,262.71L476.0,262.74L475.5,262.77L475.0,262.81L474.5,262.84L474.0,262.87L473.5,262.90L473.0,262.94L472.5,262.97L472.0,263.00L471.5,263.03L471.0,263.07L470.5,263.10L470.0,263.13L469.5,263.16L469.0,263.19L468.5,263.23L468.0,263.26L467.5,263.29L467.0,263.32L466.5,263.36L466.0,263.39L465.5,263.42L465.0,263.46L464.5,263.49L464.0,263.52L463.5,263.56L463.0,263.59L462.5,263.63L462.0,263.67L461.5,263.72L461.0,263.76L460.5,263.81L460.0,263.85L459.5,263.90L459.0,263.95L458.5,264.00L458.0,264.05L457.5,264.09L457.0,264.14L456.5,264.19L456.0,264.23L455.5,264.28L455.0,264.90L454.5,264.90L454.0,264.90L453.5,264.90L453.0,264.90L452.5,264.90L452.0,264.90L451.5,264.90L451.0,264.90L450.5,264.90L450.0,264.90L449.5,264.90L449.0,264.90L448.5,264.90L448.0,264.90L447.5,264.90L447.0,264.90L446.5,264.90L446.0,264.90L445.5,264.90L445.0,264.90L444.5,264.90L444.0,264.90L443.5,264.90L443.0,264.90L442.5,264.90L442.0,264.90L441.5,264.90L441.0,264.90L440.5,264.90L440.0,264.90L439.5,264.90L439.0,264.90L438.5,264.90L438.0,264.90L437.5,264.90L437.0,264.90L436.5,264.90L436.0,264.90L435.5,264.90L435.0,264.90L434.5,264.90L434.0,264.90L433.5,264.90L433.0,264.90L432.5,264.90L432.0,264.90L431.5,264.90L431.0,264.90L430.5,264.90L430.0,264.90L429.5,264.90L429.0,264.90L428.5,264.90L428.0,264.90L427.5,264.90L427.0,264.90L426.5,264.90L426.0,264.90L425.5,264.90L425.0,264.90L424.5,264.90L424.0,264.90L423.5,264.90L423.0,264.90L422.5,264.90L422.0,264.90L421.5,264.90L421.0,264.90L420.5,264.90L420.0,264.90L419.5,264.90L419.0,264.90L418.5,264.90L418.0,264.90L417.5,264.90L417.0,264.90L416.5,264.90L416.0,264.90L415.5,264.90L415.0,264.90L414.5,264.90L414.0,264.90L413.5,264.90L413.0,264.90L412.5,264.90L412.0,264.90L411.5,264.90L411.0,264.90L410.5,264.90L410.0,264.90L409.5,264.90L409.0,264.90L408.5,264.90L408.0,264.90L407.5,264.90L407.0,264.90L406.5,264.90L406.0,264.90L405.5,264.90L405.0,264.90L404.5,264.90L404.0,264.90L403.5,264.90L403.0,264.90L402.5,264.90L402.0,264.90L401.5,264.90L401.0,264.90L400.5,264.90L400.0,264.90L399.5,264.90L399.0,264.90L398.5,264.90L398.0,264.90L397.5,264.90L397.0,264.90L396.5,264.90L396.0,264.90L395.5,264.90L395.0,264.90L394.5,264.90L394.0,264.90L393.5,264.90L393.0,264.90L392.5,264.90L392.0,264.90L391.5,264.90L391.0,264.29L390.5,264.23L390.0,264.15L389.5,264.08L389.0,263.99L388.5,263.88Z" fill="#94497a" fill-opacity="0.85"/>
<path d="M392.0,263.53L392.5,263.45L393.0,263.37L393.5,263.30L394.0,263.22L394.5,263.15L395.0,263.08L395.5,263.00L396.0,262.93L396.5,262.85L397.0,262.78L397.5,262.71L398.0,262.63L398.5,262.55L399.0,262.48L399.5,262.40L400.0,262.32L400.5,262.23L401.0,262.15L401.5,262.07L402.0,261.99L402.5,261.90L403.0,261.82L403.5,261.74L404.0,261.66L404.5,261.57L405.0,261.49L405.5,261.41L406.0,261.32L406.5,261.24L407.0,261.16L407.5,261.07L408.0,260.99L408.5,260.91L409.0,260.82L409.5,260.74L410.0,260.67L410.5,260.59L411.0,260.52L411.5,260.44L412.0,260.37L412.5,260.30L413.0,260.24L413.5,260.17L414.0,260.10L414.5,260.03L415.0,259.97L415.5,259.90L416.0,259.83L416.5,259.76L417.0,259.69L417.5,259.62L418.0,259.56L418.5,259.49L419.0,259.43L419.5,259.38L420.0,259.32L420.5,259.27L421.0,259.22L421.5,259.18L422.0,259.14L422.5,259.10L423.0,259.06L423.5,259.02L424.0,258.98L424.5,258.95L425.0,258.92L425.5,258.88L426.0,258.85L426.5,258.82L427.0,258.80L427.5,258.77L428.0,258.74L428.5,258.72L429.0,258.70L429.5,258.68L430.0,258.65L430.5,258.63L431.0,258.61L431.5,258.59L432.0,258.57L432.5,258.55L433.0,258.53L433.5,258.51L434.0,258.50L434.5,258.48L435.0,258.46L435.5,258.44L436.0,258.43L436.5,258.41L437.0,258.39L437.5,258.38L438.0,258.36L438.5,258.35L439.0,258.33L439.5,258.32L440.0,258.31L440.5,258.30L441.0,258.29L441.5,258.28L442.0,258.27L442.5,258.26L443.0,258.26L443.5,258.25L444.0,258.25L444.5,258.25L445.0,258.24L445.5,258.24L446.0,258.24L446.5,258.24L447.0,258.24L447.5,258.24L448.0,258.25L448.5,258.25L449.0,258.25L449.5,258.25L450.0,258.25L450.5,258.25L451.0,258.26L451.5,258.26L452.0,258.26L452.5,258.27L453.0,258.27L453.5,258.27L454.0,258.28L454.5,258.28L455.0,258.29L455.5,258.29L456.0,258.30L456.5,258.30L457.0,258.31L457.5,258.32L458.0,258.32L458.5,258.33L459.0,258.34L459.5,258.35L460.0,258.36L460.5,258.37L461.0,258.37L461.5,258.38L462.0,258.38L462.5,258.38L463.0,258.38L463.5,258.38L464.0,258.37L464.5,258.36L465.0,258.36L465.5,258.35L466.0,258.35L466.5,258.34L467.0,258.34L467.5,258.33L468.0,258.33L468.5,258.32L469.0,258.32L469.5,258.31L470.0,258.31L470.5,258.31L471.0,258.30L471.5,258.30L472.0,258.29L472.5,258.29L473.0,258.29L473.5,258.28L474.0,258.28L474.5,258.28L475.0,258.27L475.5,258.27L476.0,258.27L476.5,258.26L477.0,258.25L477.5,258.24L478.0,258.23L478.5,258.21L479.0,258.19L479.5,258.17L480.0,258.14L480.5,258.12L481.0,258.09L481.5,258.06L482.0,258.03L482.5,258.00L483.0,257.97L483.5,257.95L484.0,257.92L484.5,257.89L485.0,257.86L485.5,257.83L486.0,257.81L486.5,257.78L487.0,257.75L487.5,257.72L488.0,257.70L488.5,257.67L489.0,257.64L489.5,257.61L490.0,257.58L490.5,257.56L491.0,257.53L491.5,257.50L492.0,257.47L492.5,257.45L493.0,257.42L493.5,257.39L494.0,257.36L494.5,257.34L495.0,257.32L495.5,257.30L496.0,257.29L496.5,257.28L497.0,257.27L497.5,257.27L498.0,257.27L498.5,257.28L499.0,257.28L499.5,257.29L500.0,257.30L500.5,257.30L501.0,257.31L501.5,257.31L502.0,257.32L502.5,257.33L503.0,257.33L503.5,257.34L504.0,257.35L504.5,257.35L505.0,257.36L505.5,257.37L506.0,257.38L506.5,257.39L507.0,257.40L507.5,257.42L508.0,257.45L508.5,257.49L509.0,257.53L509.5,257.59L510.0,257.66L510.5,257.73L511.0,257.83L511.5,257.93L512.0,258.05L512.5,258.17L513.0,258.32L513.5,258.51L513.5,258.60L513.0,258.80L512.5,258.96L512.0,259.10L511.5,259.23L511.0,259.35L510.5,259.46L510.0,259.56L509.5,259.65L509.0,259.73L508.5,259.80L508.0,259.86L507.5,259.92L507.0,259.97L506.5,260.01L506.0,260.06L505.5,260.10L505.0,260.15L504.5,260.19L504.0,260.24L503.5,260.28L503.0,260.33L502.5,260.38L502.0,260.42L501.5,260.47L501.0,260.51L500.5,260.56L500.0,260.60L499.5,260.64L499.0,260.69L498.5,260.73L498.0,260.78L497.5,260.82L497.0,260.85L496.5,260.89L496.0,260.91L495.5,260.94L495.0,260.96L494.5,260.98L494.0,260.99L493.5,261.01L493.0,261.02L492.5,261.03L492.0,261.04L491.5,261.05L491.0,261.06L490.5,261.07L490.0,261.08L489.5,261.09L489.0,261.11L488.5,261.12L488.0,261.13L487.5,261.14L487.0,261.15L486.5,261.16L486.0,261.17L485.5,261.18L485.0,261.19L484.5,261.20L484.0,261.21L483.5,261.22L483.0,261.24L482.5,261.25L482.0,261.26L481.5,261.27L481.0,261.28L480.5,261.29L480.0,261.30L479.5,261.31L479.0,261.33L478.5,261.34L478.0,261.37L477.5,261.39L477.0,261.42L476.5,261.45L476.0,261.48L475.5,261.52L475.0,261.55L474.5,261.59L474.0,261.62L473.5,261.66L473.0,261.69L472.5,261.73L472.0,261.76L471.5,261.80L471.0,261.83L470.5,261.87L470.0,261.90L469.5,261.94L469.0,261.97L468.5,262.01L468.0,262.04L467.5,262.08L467.0,262.11L466.5,262.15L466.0,262.18L465.5,262.22L465.0,262.25L464.5,262.29L464.0,262.33L463.5,262.36L463.0,262.40L462.5,262.45L462.0,262.49L461.5,262.54L461.0,262.58L460.5,262.63L460.0,262.69L459.5,262.74L459.0,262.79L458.5,262.85L458.0,262.90L457.5,262.95L457.0,263.00L456.5,263.05L456.0,263.10L455.5,263.15L455.0,263.20L454.5,263.25L454.0,263.30L453.5,263.35L453.0,263.40L452.5,263.44L452.0,263.49L451.5,263.54L451.0,263.59L450.5,263.63L450.0,263.68L449.5,263.73L449.0,263.77L448.5,263.82L448.0,263.87L447.5,263.91L447.0,263.96L446.5,264.00L446.0,264.05L445.5,264.09L445.0,264.13L444.5,264.18L444.0,264.22L443.5,264.26L443.0,264.30L442.5,264.90L442.0,264.90L441.5,264.90L441.0,264.90L440.5,264.90L440.0,264.90L439.5,264.90L439.0,264.90L438.5,264.90L438.0,264.90L437.5,264.90L437.0,264.90L436.5,264.90L436.0,264.90L435.5,264.90L435.0,264.90L434.5,264.90L434.0,264.90L433.5,264.90L433.0,264.90L432.5,264.90L432.0,264.90L431.5,264.90L431.0,264.90L430.5,264.90L430.0,264.90L429.5,264.90L429.0,264.90L428.5,264.90L428.0,264.90L427.5,264.90L427.0,264.90L426.5,264.90L426.0,264.90L425.5,264.90L425.0,264.90L424.5,264.90L424.0,264.90L423.5,264.90L423.0,264.90L422.5,264.90L422.0,264.90L421.5,264.90L421.0,264.90L420.5,264.90L420.0,264.90L419.5,264.90L419.0,264.90L418.5,264.90L418.0,264.90L417.5,264.90L417.0,264.90L416.5,264.90L416.0,264.90L415.5,264.90L415.0,264.90L414.5,264.90L414.0,264.90L413.5,264.90L413.0,264.90L412.5,264.90L412.0,264.90L411.5,264.90L411.0,264.90L410.5,264.90L410.0,264.90L409.5,264.90L409.0,264.90L408.5,264.90L408.0,264.90L407.5,264.90L407.0,264.90L406.5,264.90L406.0,264.90L405.5,264.90L405.0,264.90L404.5,264.90L404.0,264.90L403.5,264.90L403.0,264.90L402.5,264.90L402.0,264.90L401.5,264.90L401.0,264.90L400.5,264.90L400.0,264.90L399.5,264.90L399.0,264.90L398.5,264.30L398.0,264.28L397.5,264.26L397.0,264.24L396.5,264.22L396.0,264.19L395.5,264.15L395.0,264.12L394.5,264.08L394.0,264.03L393.5,263.97L393.0,263.91L392.5,263.84L392.0,263.75Z" fill="#833a80" fill-opacity="0.85"/>
<path d="M395.5,263.41L396.0,263.32L396.5,263.25L397.0,263.17L397.5,263.10L398.0,263.03L398.5,262.95L399.0,262.88L399.5,262.80L400.0,262.73L400.5,262.65L401.0,262.57L401.5,262.49L402.0,262.42L402.5,262.34L403.0,262.26L403.5,262.19L404.0,262.11L404.5,262.03L405.0,261.95L405.5,261.88L406.0,261.80L406.5,261.72L407.0,261.65L407.5,261.57L408.0,261.49L408.5,261.41L409.0,261.34L409.5,261.26L410.0,261.19L410.5,261.12L411.0,261.05L411.5,260.98L412.0,260.92L412.5,260.86L413.0,260.80L413.5,260.73L414.0,260.67L414.5,260.61L415.0,260.55L415.5,260.49L416.0,260.43L416.5,260.36L417.0,260.30L417.5,260.24L418.0,260.18L418.5,260.12L419.0,260.07L419.5,260.02L420.0,259.97L420.5,259.93L421.0,259.89L421.5,259.85L422.0,259.82L422.5,259.78L423.0,259.75L423.5,259.72L424.0,259.70L424.5,259.67L425.0,259.64L425.5,259.62L426.0,259.59L426.5,259.57L427.0,259.55L427.5,259.53L428.0,259.51L428.5,259.49L429.0,259.48L429.5,259.46L430.0,259.44L430.5,259.43L431.0,259.42L431.5,259.40L432.0,259.39L432.5,259.38L433.0,259.36L433.5,259.35L434.0,259.34L434.5,259.33L435.0,259.32L435.5,259.31L436.0,259.30L436.5,259.29L437.0,259.28L437.5,259.27L438.0,259.26L438.5,259.25L439.0,259.25L439.5,259.24L440.0,259.23L440.5,259.23L441.0,259.23L441.5,259.22L442.0,259.22L442.5,259.22L443.0,259.22L443.5,259.22L444.0,259.23L444.5,259.23L445.0,259.23L445.5,259.24L446.0,259.24L446.5,259.25L447.0,259.25L447.5,259.26L448.0,259.26L448.5,259.27L449.0,259.27L449.5,259.28L450.0,259.29L450.5,259.30L451.0,259.31L451.5,259.31L452.0,259.32L452.5,259.33L453.0,259.34L453.5,259.35L454.0,259.36L454.5,259.37L455.0,259.39L455.5,259.40L456.0,259.41L456.5,259.42L457.0,259.44L457.5,259.45L458.0,259.47L458.5,259.48L459.0,259.50L459.5,259.52L460.0,259.53L460.5,259.55L461.0,259.56L461.5,259.58L462.0,259.59L462.5,259.60L463.0,259.60L463.5,259.61L464.0,259.61L464.5,259.61L465.0,259.61L465.5,259.60L466.0,259.61L466.5,259.61L467.0,259.61L467.5,259.61L468.0,259.61L468.5,259.61L469.0,259.61L469.5,259.62L470.0,259.62L470.5,259.63L471.0,259.63L471.5,259.63L472.0,259.64L472.5,259.65L473.0,259.65L473.5,259.66L474.0,259.67L474.5,259.68L475.0,259.69L475.5,259.70L476.0,259.71L476.5,259.72L477.0,259.72L477.5,259.72L478.0,259.71L478.5,259.70L479.0,259.68L479.5,259.65L480.0,259.62L480.5,259.58L481.0,259.54L481.5,259.50L482.0,259.47L482.5,259.43L483.0,259.40L483.5,259.36L484.0,259.33L484.5,259.29L485.0,259.26L485.5,259.22L486.0,259.19L486.5,259.15L487.0,259.12L487.5,259.09L488.0,259.05L488.5,259.02L489.0,258.99L489.5,258.96L490.0,258.92L490.5,258.89L491.0,258.86L491.5,258.83L492.0,258.80L492.5,258.76L493.0,258.73L493.5,258.70L494.0,258.67L494.5,258.64L495.0,258.62L495.5,258.61L496.0,258.59L496.5,258.59L497.0,258.59L497.5,258.59L498.0,258.60L498.5,258.62L499.0,258.64L499.5,258.66L500.0,258.68L500.5,258.70L501.0,258.73L501.5,258.76L502.0,258.79L502.5,258.85L502.5,258.85L502.0,258.95L501.5,259.02L501.0,259.09L500.5,259.15L500.0,259.21L499.5,259.27L499.0,259.33L498.5,259.39L498.0,259.45L497.5,259.49L497.0,259.54L496.5,259.58L496.0,259.61L495.5,259.64L495.0,259.66L494.5,259.68L494.0,259.69L493.5,259.70L493.0,259.70L492.5,259.71L492.0,259.72L491.5,259.72L491.0,259.73L490.5,259.74L490.0,259.74L489.5,259.75L489.0,259.76L488.5,259.76L488.0,259.77L487.5,259.77L487.0,259.78L486.5,259.78L486.0,259.79L485.5,259.79L485.0,259.80L484.5,259.80L484.0,259.81L483.5,259.81L483.0,259.81L482.5,259.82L482.0,259.82L481.5,259.82L481.0,259.82L480.5,259.82L480.0,259.82L479.5,259.83L479.0,259.84L478.5,259.86L478.0,259.88L477.5,259.92L477.0,259.95L476.5,260.00L476.0,260.04L475.5,260.09L475.0,260.14L474.5,260.19L474.0,260.24L473.5,260.28L473.0,260.33L472.5,260.37L472.0,260.42L471.5,260.46L471.0,260.51L470.5,260.55L470.0,260.59L469.5,260.63L469.0,260.68L468.5,260.72L468.0,260.76L467.5,260.80L467.0,260.84L466.5,260.88L466.0,260.92L465.5,260.97L465.0,261.01L464.5,261.05L464.0,261.09L463.5,261.13L463.0,261.18L462.5,261.23L462.0,261.28L461.5,261.33L461.0,261.39L460.5,261.45L460.0,261.51L459.5,261.57L459.0,261.63L458.5,261.70L458.0,261.76L457.5,261.82L457.0,261.87L456.5,261.93L456.0,261.99L455.5,262.05L455.0,262.10L454.5,262.16L454.0,262.22L453.5,262.27L453.0,262.33L452.5,262.38L452.0,262.43L451.5,262.49L451.0,262.54L450.5,262.59L450.0,262.64L449.5,262.70L449.0,262.75L448.5,262.80L448.0,262.85L447.5,262.90L447.0,262.95L446.5,263.00L446.0,263.05L445.5,263.10L445.0,263.15L444.5,263.19L444.0,263.24L443.5,263.29L443.0,263.33L442.5,263.38L442.0,263.42L441.5,263.47L441.0,263.51L440.5,263.55L440.0,263.59L439.5,263.63L439.0,263.66L438.5,263.70L438.0,263.74L437.5,263.77L437.0,263.81L436.5,263.85L436.0,263.88L435.5,263.92L435.0,263.95L434.5,263.98L434.0,264.02L433.5,264.05L433.0,264.08L432.5,264.11L432.0,264.14L431.5,264.18L431.0,264.21L430.5,264.24L430.0,264.27L429.5,264.30L429.0,264.90L428.5,264.90L428.0,264.90L427.5,264.90L427.0,264.90L426.5,264.90L426.0,264.90L425.5,264.90L425.0,264.90L424.5,264.90L424.0,264.90L423.5,264.90L423.0,264.90L422.5,264.90L422.0,264.90L421.5,264.90L421.0,264.90L420.5,264.90L420.0,264.90L419.5,264.90L419.0,264.90L418.5,264.90L418.0,264.90L417.5,264.90L417.0,264.90L416.5,264.90L416.0,264.90L415.5,264.90L415.0,264.90L414.5,264.90L414.0,264.90L413.5,264.90L413.0,264.90L412.5,264.90L412.0,264.90L411.5,264.90L411.0,264.90L410.5,264.90L410.0,264.90L409.5,264.90L409.0,264.90L408.5,264.29L408.0,264.26L407.5,264.23L407.0,264.20L406.5,264.17L406.0,264.14L405.5,264.11L405.0,264.09L404.5,264.06L404.0,264.03L403.5,264.00L403.0,263.97L402.5,263.96L402.0,263.94L401.5,263.93L401.0,263.91L400.5,263.89L400.0,263.87L399.5,263.85L399.0,263.83L398.5,263.80L398.0,263.78L397.5,263.74L397.0,263.71L396.5,263.67L396.0,263.62L395.5,263.55Z" fill="#722a7d" fill-opacity="0.85"/>
<path d="M400.0,263.20L400.5,263.11L401.0,263.03L401.5,262.95L402.0,262.87L402.5,262.79L403.0,262.71L403.5,262.64L404.0,262.56L404.5,262.49L405.0,262.42L405.5,262.34L406.0,262.27L406.5,262.20L407.0,262.12L407.5,262.05L408.0,261.98L408.5,261.90L409.0,261.83L409.5,261.76L410.0,261.69L410.5,261.62L411.0,261.56L411.5,261.50L412.0,261.44L412.5,261.38L413.0,261.33L413.5,261.27L414.0,261.22L414.5,261.16L415.0,261.11L415.5,261.05L416.0,260.99L416.5,260.94L417.0,260.88L417.5,260.82L418.0,260.77L418.5,260.72L419.0,260.67L419.5,260.63L420.0,260.59L420.5,260.55L421.0,260.52L421.5,260.49L422.0,260.46L422.5,260.44L423.0,260.42L423.5,260.39L424.0,260.37L424.5,260.35L425.0,260.34L425.5,260.32L426.0,260.30L426.5,260.28L427.0,260.27L427.5,260.26L428.0,260.24L428.5,260.23L429.0,260.22L429.5,260.21L430.0,260.20L430.5,260.20L431.0,260.19L431.5,260.18L432.0,260.18L432.5,260.17L433.0,260.17L433.5,260.16L434.0,260.16L434.5,260.15L435.0,260.15L435.5,260.15L436.0,260.15L436.5,260.14L437.0,260.14L437.5,260.14L438.0,260.14L438.5,260.14L439.0,260.15L439.5,260.15L440.0,260.15L440.5,260.16L441.0,260.16L441.5,260.17L442.0,260.18L442.5,260.18L443.0,260.19L443.5,260.20L444.0,260.21L444.5,260.23L445.0,260.24L445.5,260.25L446.0,260.26L446.5,260.28L447.0,260.29L447.5,260.31L448.0,260.32L448.5,260.34L449.0,260.36L449.5,260.37L450.0,260.39L450.5,260.41L451.0,260.44L451.5,260.46L452.0,260.49L452.5,260.51L453.0,260.54L453.5,260.58L454.0,260.61L454.5,260.66L455.0,260.72L455.0,260.77L454.5,260.87L454.0,260.96L453.5,261.05L453.0,261.12L452.5,261.20L452.0,261.27L451.5,261.34L451.0,261.41L450.5,261.47L450.0,261.54L449.5,261.60L449.0,261.67L448.5,261.73L448.0,261.79L447.5,261.85L447.0,261.91L446.5,261.97L446.0,262.03L445.5,262.08L445.0,262.14L444.5,262.20L444.0,262.25L443.5,262.31L443.0,262.36L442.5,262.42L442.0,262.47L441.5,262.52L441.0,262.57L440.5,262.62L440.0,262.67L439.5,262.72L439.0,262.76L438.5,262.81L438.0,262.86L437.5,262.90L437.0,262.95L436.5,262.99L436.0,263.03L435.5,263.07L435.0,263.12L434.5,263.16L434.0,263.20L433.5,263.24L433.0,263.28L432.5,263.32L432.0,263.36L431.5,263.40L431.0,263.43L430.5,263.47L430.0,263.51L429.5,263.54L429.0,263.58L428.5,263.61L428.0,263.65L427.5,263.68L427.0,263.71L426.5,263.74L426.0,263.77L425.5,263.79L425.0,263.82L424.5,263.85L424.0,263.87L423.5,263.89L423.0,263.92L422.5,263.94L422.0,263.96L421.5,263.98L421.0,264.00L420.5,264.01L420.0,264.02L419.5,264.03L419.0,264.03L418.5,264.03L418.0,264.03L417.5,264.02L417.0,264.01L416.5,264.00L416.0,263.99L415.5,263.98L415.0,263.97L414.5,263.97L414.0,263.96L413.5,263.95L413.0,263.94L412.5,263.94L412.0,263.93L411.5,263.92L411.0,263.90L410.5,263.89L410.0,263.87L409.5,263.85L409.0,263.83L408.5,263.80L408.0,263.78L407.5,263.75L407.0,263.72L406.5,263.70L406.0,263.67L405.5,263.65L405.0,263.62L404.5,263.60L404.0,263.57L403.5,263.54L403.0,263.52L402.5,263.50L402.0,263.47L401.5,263.45L401.0,263.41L400.5,263.37L400.0,263.32Z" fill="#5e1b7f" fill-opacity="0.85"/>
<path d="M405.0,262.97L405.5,262.88L406.0,262.80L406.5,262.72L407.0,262.64L407.5,262.56L408.0,262.49L408.5,262.41L409.0,262.34L409.5,262.27L410.0,262.20L410.5,262.14L411.0,262.08L411.5,262.02L412.0,261.97L412.5,261.91L413.0,261.86L413.5,261.81L414.0,261.76L414.5,261.71L415.0,261.66L415.5,261.61L416.0,261.56L416.5,261.50L417.0,261.45L417.5,261.40L418.0,261.35L418.5,261.30L419.0,261.26L419.5,261.23L420.0,261.19L420.5,261.16L421.0,261.14L421.5,261.12L422.0,261.10L422.5,261.09L423.0,261.07L423.5,261.06L424.0,261.05L424.5,261.04L425.0,261.03L425.5,261.02L426.0,261.01L426.5,261.00L427.0,260.99L427.5,260.99L428.0,260.98L428.5,260.98L429.0,260.98L429.5,260.98L430.0,260.98L430.5,260.98L431.0,260.98L431.5,260.98L432.0,260.99L432.5,260.99L433.0,261.00L433.5,261.01L434.0,261.01L434.5,261.02L435.0,261.03L435.5,261.04L436.0,261.05L436.5,261.07L437.0,261.08L437.5,261.10L438.0,261.12L438.5,261.14L439.0,261.16L439.5,261.18L440.0,261.21L440.5,261.25L441.0,261.29L441.0,261.44L440.5,261.53L440.0,261.61L439.5,261.68L439.0,261.75L438.5,261.82L438.0,261.88L437.5,261.95L437.0,262.01L436.5,262.07L436.0,262.12L435.5,262.18L435.0,262.24L434.5,262.29L434.0,262.34L433.5,262.39L433.0,262.44L432.5,262.50L432.0,262.54L431.5,262.59L431.0,262.64L430.5,262.69L430.0,262.73L429.5,262.78L429.0,262.82L428.5,262.86L428.0,262.91L427.5,262.95L427.0,262.98L426.5,263.02L426.0,263.06L425.5,263.09L425.0,263.13L424.5,263.16L424.0,263.20L423.5,263.23L423.0,263.26L422.5,263.29L422.0,263.32L421.5,263.35L421.0,263.38L420.5,263.40L420.0,263.42L419.5,263.43L419.0,263.44L418.5,263.44L418.0,263.44L417.5,263.44L417.0,263.44L416.5,263.43L416.0,263.43L415.5,263.43L415.0,263.42L414.5,263.42L414.0,263.42L413.5,263.41L413.0,263.41L412.5,263.41L412.0,263.40L411.5,263.40L411.0,263.39L410.5,263.37L410.0,263.36L409.5,263.34L409.0,263.32L408.5,263.29L408.0,263.27L407.5,263.24L407.0,263.21L406.5,263.18L406.0,263.15L405.5,263.11L405.0,263.07Z" fill="#400c84" fill-opacity="0.85"/>
<path d="M411.5,262.65L412.0,262.58L412.5,262.52L413.0,262.47L413.5,262.42L414.0,262.37L414.5,262.32L415.0,262.27L415.5,262.22L416.0,262.17L416.5,262.12L417.0,262.07L417.5,262.02L418.0,261.97L418.5,261.93L419.0,261.90L419.5,261.87L420.0,261.84L420.5,261.82L421.0,261.80L421.5,261.79L422.0,261.79L422.5,261.79L423.0,261.79L423.5,261.79L424.0,261.79L424.5,261.80L425.0,261.80L425.5,261.81L426.0,261.82L426.5,261.83L427.0,261.84L427.5,261.86L428.0,261.89L428.0,262.00L427.5,262.07L427.0,262.14L426.5,262.19L426.0,262.25L425.5,262.30L425.0,262.35L424.5,262.40L424.0,262.45L423.5,262.50L423.0,262.54L422.5,262.59L422.0,262.63L421.5,262.68L421.0,262.71L420.5,262.74L420.0,262.77L419.5,262.79L419.0,262.80L418.5,262.82L418.0,262.82L417.5,262.82L417.0,262.82L416.5,262.82L416.0,262.82L415.5,262.81L415.0,262.81L414.5,262.81L414.0,262.81L413.5,262.80L413.0,262.80L412.5,262.80L412.0,262.79L411.5,262.77Z" fill="#00008b" fill-opacity="0.85"/>
</g>
<line x1="496.0" y1="28.9" x2="494.6" y2="26.5" class="tb"/>
<line x1="360.9" y1="264.3" x2="359.8" y2="266.2" class="tb"/>
<line x1="630.7" y1="264.3" x2="633.2" y2="264.3" class="tb"/>
<line x1="482.5" y1="52.4" x2="481.1" y2="50.1" class="tb"/>
<line x1="387.9" y1="264.3" x2="386.8" y2="266.2" class="tb"/>
<line x1="617.2" y1="240.8" x2="619.7" y2="240.8" class="tb"/>
<line x1="469.0" y1="76.0" x2="467.6" y2="73.6" class="tb"/>
<text transform="translate(467.2,72.9) rotate(60)" class="tl" text-anchor="end" dy="2.9">20</text>
<line x1="414.9" y1="264.3" x2="413.8" y2="266.2" class="tb"/>
<text transform="translate(413.1,267.4) rotate(-60)" class="tl" text-anchor="end" dy="2.9">20</text>
<line x1="603.8" y1="217.2" x2="606.3" y2="217.2" class="tb"/>
<text x="608.7" y="220.2" class="tl">20</text>
<line x1="455.5" y1="99.5" x2="454.1" y2="97.2" class="tb"/>
<line x1="441.8" y1="264.3" x2="440.7" y2="266.2" class="tb"/>
<line x1="590.3" y1="193.7" x2="592.8" y2="193.7" class="tb"/>
<line x1="442.0" y1="123.1" x2="440.6" y2="120.7" class="tb"/>
<text transform="translate(440.2,119.9) rotate(60)" class="tl" text-anchor="end" dy="2.9">40</text>
<line x1="468.8" y1="264.3" x2="467.7" y2="266.2" class="tb"/>
<text transform="translate(467.0,267.4) rotate(-60)" class="tl" text-anchor="end" dy="2.9">40</text>
<line x1="576.8" y1="170.1" x2="579.3" y2="170.1" class="tb"/>
<text x="581.7" y="173.1" class="tl">40</text>
<line x1="428.4" y1="146.6" x2="427.1" y2="144.2" class="tb"/>
<line x1="495.8" y1="264.3" x2="494.7" y2="266.2" class="tb"/>
<line x1="563.4" y1="146.6" x2="565.9" y2="146.6" class="tb"/>
<line x1="414.9" y1="170.1" x2="413.6" y2="167.8" class="tb"/>
<text transform="translate(413.1,167.0) rotate(60)" class="tl" text-anchor="end" dy="2.9">60</text>
<line x1="522.8" y1="264.3" x2="521.7" y2="266.2" class="tb"/>
<text transform="translate(521.0,267.4) rotate(-60)" class="tl" text-anchor="end" dy="2.9">60</text>
<line x1="549.9" y1="123.1" x2="552.4" y2="123.1" class="tb"/>
<text x="554.8" y="126.1" class="tl">60</text>
<line x1="401.4" y1="193.7" x2="400.1" y2="191.3" class="tb"/>
<line x1="549.8" y1="264.3" x2="548.7" y2="266.2" class="tb"/>
<line x1="536.4" y1="99.5" x2="538.9" y2="99.5" class="tb"/>
<line x1="387.9" y1="217.2" x2="386.6" y2="214.9" class="tb"/>
<text transform="translate(386.1,214.1) rotate(60)" class="tl" text-anchor="end" dy="2.9">80</text>
<line x1="576.7" y1="264.3" x2="575.6" y2="266.2" class="tb"/>
<text transform="translate(574.9,267.4) rotate(-60)" class="tl" text-anchor="end" dy="2.9">80</text>
<line x1="522.9" y1="76.0" x2="525.4" y2="76.0" class="tb"/>
<text x="527.8" y="79.0" class="tl">80</text>
<line x1="374.4" y1="240.8" x2="373.1" y2="238.4" class="tb"/>
<line x1="603.7" y1="264.3" x2="602.6" y2="266.2" class="tb"/>
<line x1="509.5" y1="52.4" x2="512.0" y2="52.4" class="tb"/>
<line x1="360.9" y1="264.3" x2="359.5" y2="261.9" class="tb"/>
<text transform="translate(359.1,261.2) rotate(60)" class="tl" text-anchor="end" dy="2.9">100</text>
<line x1="630.7" y1="264.3" x2="629.6" y2="266.2" class="tb"/>
<text transform="translate(628.9,267.4) rotate(-60)" class="tl" text-anchor="end" dy="2.9">100</text>
<line x1="496.0" y1="28.9" x2="498.5" y2="28.9" class="tb"/>
<text x="500.9" y="31.9" class="tl">100</text>
<line x1="360.5" y1="264.3" x2="631.2" y2="264.3" stroke="#333" stroke-width="1.0"/>
<path d="M360.9,264.3L496.0,28.9L630.7,264.3" fill="none" stroke="#2b2b2b" stroke-width="1.6" stroke-linejoin="miter"/>
<text transform="translate(494.6,12.4) rotate(-29.5)" class="tn" text-anchor="middle" dy="3">Technical</text>
<text transform="translate(335.0,280.5) rotate(-29.5)" class="tn" text-anchor="middle" dy="3">Biological</text>
<text transform="translate(662.8,262.6) rotate(-29)" class="tn" text-anchor="middle" dy="3">Unexplained</text>
<text x="342.6" y="13.5" class="pl">b</text>
<text x="620.8" y="106.9" class="lt">Density</text>
<rect x="621" y="109.9" width="15" height="75" fill="url(#gr)"/>
<line x1="621" y1="112.0" x2="624" y2="112.0" stroke="#fff" stroke-width="1.0"/>
<line x1="633" y1="112.0" x2="636" y2="112.0" stroke="#fff" stroke-width="1.0"/>
<line x1="621" y1="183.0" x2="624" y2="183.0" stroke="#fff" stroke-width="1.0"/>
<line x1="633" y1="183.0" x2="636" y2="183.0" stroke="#fff" stroke-width="1.0"/>
<text x="639.8" y="115.9" class="ll">high</text>
<text x="639.8" y="186.6" class="ll">low</text>
<line x1="30.7" y1="338.4" x2="638.6" y2="338.4" class="gc"/>
<line x1="30.7" y1="398.65" x2="638.6" y2="398.65" class="gc2"/>
<line x1="30.7" y1="458.9" x2="638.6" y2="458.9" class="gc"/>
<line x1="34.60" y1="321.6" x2="34.60" y2="488.2" class="gc"/>
<line x1="42.30" y1="321.6" x2="42.30" y2="488.2" class="gc"/>
<line x1="49.99" y1="321.6" x2="49.99" y2="488.2" class="gc"/>
<line x1="57.69" y1="321.6" x2="57.69" y2="488.2" class="gc"/>
<line x1="65.38" y1="321.6" x2="65.38" y2="488.2" class="gc"/>
<line x1="73.08" y1="321.6" x2="73.08" y2="488.2" class="gc"/>
<line x1="80.77" y1="321.6" x2="80.77" y2="488.2" class="gc"/>
<line x1="88.47" y1="321.6" x2="88.47" y2="488.2" class="gc"/>
<line x1="96.16" y1="321.6" x2="96.16" y2="488.2" class="gc"/>
<line x1="103.85" y1="321.6" x2="103.85" y2="488.2" class="gc"/>
<line x1="111.55" y1="321.6" x2="111.55" y2="488.2" class="gc"/>
<line x1="119.25" y1="321.6" x2="119.25" y2="488.2" class="gc"/>
<line x1="126.94" y1="321.6" x2="126.94" y2="488.2" class="gc"/>
<line x1="134.63" y1="321.6" x2="134.63" y2="488.2" class="gc"/>
<line x1="142.33" y1="321.6" x2="142.33" y2="488.2" class="gc"/>
<line x1="150.03" y1="321.6" x2="150.03" y2="488.2" class="gc"/>
<line x1="157.72" y1="321.6" x2="157.72" y2="488.2" class="gc"/>
<line x1="165.41" y1="321.6" x2="165.41" y2="488.2" class="gc"/>
<line x1="173.11" y1="321.6" x2="173.11" y2="488.2" class="gc"/>
<line x1="180.81" y1="321.6" x2="180.81" y2="488.2" class="gc"/>
<line x1="188.50" y1="321.6" x2="188.50" y2="488.2" class="gc"/>
<line x1="196.19" y1="321.6" x2="196.19" y2="488.2" class="gc"/>
<line x1="203.89" y1="321.6" x2="203.89" y2="488.2" class="gc"/>
<line x1="211.59" y1="321.6" x2="211.59" y2="488.2" class="gc"/>
<line x1="219.28" y1="321.6" x2="219.28" y2="488.2" class="gc"/>
<line x1="226.97" y1="321.6" x2="226.97" y2="488.2" class="gc"/>
<line x1="234.67" y1="321.6" x2="234.67" y2="488.2" class="gc"/>
<line x1="242.37" y1="321.6" x2="242.37" y2="488.2" class="gc"/>
<line x1="250.06" y1="321.6" x2="250.06" y2="488.2" class="gc"/>
<line x1="257.75" y1="321.6" x2="257.75" y2="488.2" class="gc"/>
<line x1="265.45" y1="321.6" x2="265.45" y2="488.2" class="gc"/>
<line x1="273.15" y1="321.6" x2="273.15" y2="488.2" class="gc"/>
<line x1="280.84" y1="321.6" x2="280.84" y2="488.2" class="gc"/>
<line x1="288.54" y1="321.6" x2="288.54" y2="488.2" class="gc"/>
<line x1="296.23" y1="321.6" x2="296.23" y2="488.2" class="gc"/>
<line x1="303.93" y1="321.6" x2="303.93" y2="488.2" class="gc"/>
<line x1="311.62" y1="321.6" x2="311.62" y2="488.2" class="gc"/>
<line x1="319.32" y1="321.6" x2="319.32" y2="488.2" class="gc"/>
<line x1="327.01" y1="321.6" x2="327.01" y2="488.2" class="gc"/>
<line x1="334.71" y1="321.6" x2="334.71" y2="488.2" class="gc"/>
<line x1="342.40" y1="321.6" x2="342.40" y2="488.2" class="gc"/>
<line x1="350.10" y1="321.6" x2="350.10" y2="488.2" class="gc"/>
<line x1="357.79" y1="321.6" x2="357.79" y2="488.2" class="gc"/>
<line x1="365.49" y1="321.6" x2="365.49" y2="488.2" class="gc"/>
<line x1="373.18" y1="321.6" x2="373.18" y2="488.2" class="gc"/>
<line x1="380.88" y1="321.6" x2="380.88" y2="488.2" class="gc"/>
<line x1="388.57" y1="321.6" x2="388.57" y2="488.2" class="gc"/>
<line x1="396.27" y1="321.6" x2="396.27" y2="488.2" class="gc"/>
<line x1="403.96" y1="321.6" x2="403.96" y2="488.2" class="gc"/>
<line x1="411.66" y1="321.6" x2="411.66" y2="488.2" class="gc"/>
<line x1="419.35" y1="321.6" x2="419.35" y2="488.2" class="gc"/>
<line x1="427.05" y1="321.6" x2="427.05" y2="488.2" class="gc"/>
<line x1="434.74" y1="321.6" x2="434.74" y2="488.2" class="gc"/>
<line x1="442.44" y1="321.6" x2="442.44" y2="488.2" class="gc"/>
<line x1="450.13" y1="321.6" x2="450.13" y2="488.2" class="gc"/>
<line x1="457.83" y1="321.6" x2="457.83" y2="488.2" class="gc"/>
<line x1="465.52" y1="321.6" x2="465.52" y2="488.2" class="gc"/>
<line x1="473.22" y1="321.6" x2="473.22" y2="488.2" class="gc"/>
<line x1="480.91" y1="321.6" x2="480.91" y2="488.2" class="gc"/>
<line x1="488.61" y1="321.6" x2="488.61" y2="488.2" class="gc"/>
<line x1="496.30" y1="321.6" x2="496.30" y2="488.2" class="gc"/>
<line x1="504.00" y1="321.6" x2="504.00" y2="488.2" class="gc"/>
<line x1="511.69" y1="321.6" x2="511.69" y2="488.2" class="gc"/>
<line x1="519.38" y1="321.6" x2="519.38" y2="488.2" class="gc"/>
<line x1="527.08" y1="321.6" x2="527.08" y2="488.2" class="gc"/>
<line x1="534.77" y1="321.6" x2="534.77" y2="488.2" class="gc"/>
<line x1="542.47" y1="321.6" x2="542.47" y2="488.2" class="gc"/>
<line x1="550.17" y1="321.6" x2="550.17" y2="488.2" class="gc"/>
<line x1="557.86" y1="321.6" x2="557.86" y2="488.2" class="gc"/>
<line x1="565.56" y1="321.6" x2="565.56" y2="488.2" class="gc"/>
<line x1="573.25" y1="321.6" x2="573.25" y2="488.2" class="gc"/>
<line x1="580.95" y1="321.6" x2="580.95" y2="488.2" class="gc"/>
<line x1="588.64" y1="321.6" x2="588.64" y2="488.2" class="gc"/>
<line x1="596.34" y1="321.6" x2="596.34" y2="488.2" class="gc"/>
<line x1="604.03" y1="321.6" x2="604.03" y2="488.2" class="gc"/>
<line x1="611.73" y1="321.6" x2="611.73" y2="488.2" class="gc"/>
<line x1="619.42" y1="321.6" x2="619.42" y2="488.2" class="gc"/>
<line x1="627.12" y1="321.6" x2="627.12" y2="488.2" class="gc"/>
<line x1="634.81" y1="321.6" x2="634.81" y2="488.2" class="gc"/>
<circle cx="542.47" cy="481.1" r="2.2" fill="#ffa500"/>
<circle cx="226.97" cy="476.7" r="2.2" fill="#f89e1a"/>
<circle cx="234.67" cy="476.5" r="2.2" fill="#f89d1b"/>
<circle cx="265.45" cy="473.8" r="2.2" fill="#f49a23"/>
<circle cx="34.60" cy="471.8" r="2.2" fill="#f19727"/>
<circle cx="211.59" cy="471.2" r="2.2" fill="#f09629"/>
<circle cx="442.44" cy="471.2" r="2.2" fill="#f09629"/>
<circle cx="396.27" cy="467.7" r="2.2" fill="#eb912f"/>
<circle cx="242.37" cy="464.6" r="2.2" fill="#e78d34"/>
<circle cx="604.03" cy="464.3" r="2.2" fill="#e78d34"/>
<circle cx="488.61" cy="464.1" r="2.2" fill="#e78d35"/>
<circle cx="504.00" cy="462.8" r="2.2" fill="#e58b37"/>
<circle cx="588.64" cy="460.4" r="2.2" fill="#e2883a"/>
<circle cx="134.63" cy="458.6" r="2.2" fill="#e0863c"/>
<circle cx="250.06" cy="458.6" r="2.2" fill="#e0863c"/>
<circle cx="580.95" cy="458.2" r="2.2" fill="#df853d"/>
<circle cx="42.30" cy="456.0" r="2.2" fill="#dc823f"/>
<circle cx="296.23" cy="455.7" r="2.2" fill="#dc823f"/>
<circle cx="557.86" cy="454.6" r="2.2" fill="#da8141"/>
<circle cx="380.88" cy="452.9" r="2.2" fill="#d87f42"/>
<circle cx="273.15" cy="452.7" r="2.2" fill="#d87e43"/>
<circle cx="565.56" cy="451.5" r="2.2" fill="#d77d44"/>
<circle cx="57.69" cy="449.1" r="2.2" fill="#d47a46"/>
<circle cx="419.35" cy="447.8" r="2.2" fill="#d27948"/>
<circle cx="288.54" cy="447.4" r="2.2" fill="#d27848"/>
<circle cx="280.84" cy="445.4" r="2.2" fill="#cf764a"/>
<circle cx="450.13" cy="445.2" r="2.2" fill="#cf764a"/>
<circle cx="365.49" cy="444.9" r="2.2" fill="#ce754a"/>
<circle cx="88.47" cy="440.3" r="2.2" fill="#c87050"/>
<circle cx="334.71" cy="440.3" r="2.2" fill="#c87050"/>
<circle cx="427.05" cy="440.3" r="2.2" fill="#c87050"/>
<circle cx="573.25" cy="439.4" r="2.2" fill="#c76f51"/>
<circle cx="480.91" cy="437.4" r="2.2" fill="#c46d54"/>
<circle cx="49.99" cy="437.0" r="2.2" fill="#c46c54"/>
<circle cx="411.66" cy="436.3" r="2.2" fill="#c26b54"/>
<circle cx="103.85" cy="435.0" r="2.2" fill="#c06a56"/>
<circle cx="627.12" cy="433.9" r="2.2" fill="#bf6958"/>
<circle cx="96.16" cy="431.9" r="2.2" fill="#bc665b"/>
<circle cx="65.38" cy="430.6" r="2.2" fill="#ba655d"/>
<circle cx="303.93" cy="430.6" r="2.2" fill="#ba655d"/>
<circle cx="434.74" cy="430.5" r="2.2" fill="#ba655d"/>
<circle cx="342.40" cy="429.2" r="2.2" fill="#b7635f"/>
<circle cx="496.30" cy="429.0" r="2.2" fill="#b7635f"/>
<circle cx="519.38" cy="427.3" r="2.2" fill="#b56161"/>
<circle cx="527.08" cy="426.6" r="2.2" fill="#b46163"/>
<circle cx="596.34" cy="424.9" r="2.2" fill="#b15f65"/>
<circle cx="196.19" cy="424.8" r="2.2" fill="#b15f65"/>
<circle cx="619.42" cy="423.8" r="2.2" fill="#b05d66"/>
<circle cx="119.25" cy="422.7" r="2.2" fill="#ae5c67"/>
<circle cx="311.62" cy="422.3" r="2.2" fill="#ad5c68"/>
<circle cx="350.10" cy="421.7" r="2.2" fill="#ac5b69"/>
<circle cx="473.22" cy="419.2" r="2.2" fill="#a9586c"/>
<circle cx="111.55" cy="417.1" r="2.2" fill="#a5566f"/>
<circle cx="403.96" cy="416.2" r="2.2" fill="#a4556f"/>
<circle cx="203.89" cy="415.3" r="2.2" fill="#a35471"/>
<circle cx="73.08" cy="414.7" r="2.2" fill="#a25471"/>
<circle cx="534.77" cy="411.3" r="2.2" fill="#9d5074"/>
<circle cx="388.57" cy="410.7" r="2.2" fill="#9d4f76"/>
<circle cx="150.03" cy="409.2" r="2.2" fill="#9a4e77"/>
<circle cx="157.72" cy="407.4" r="2.2" fill="#974c78"/>
<circle cx="550.17" cy="406.5" r="2.2" fill="#964b79"/>
<circle cx="180.81" cy="404.5" r="2.2" fill="#94497a"/>
<circle cx="142.33" cy="404.3" r="2.2" fill="#94497b"/>
<circle cx="327.01" cy="403.8" r="2.2" fill="#93487b"/>
<circle cx="465.52" cy="400.5" r="2.2" fill="#8f457d"/>
<circle cx="257.75" cy="398.8" r="2.2" fill="#8d437e"/>
<circle cx="219.28" cy="397.7" r="2.2" fill="#8b427e"/>
<circle cx="165.41" cy="394.7" r="2.2" fill="#883f7f"/>
<circle cx="357.79" cy="389.3" r="2.2" fill="#82397f"/>
<circle cx="373.18" cy="389.3" r="2.2" fill="#82397f"/>
<circle cx="511.69" cy="387.1" r="2.2" fill="#80377f"/>
<circle cx="611.73" cy="386.3" r="2.2" fill="#7e367f"/>
<circle cx="173.11" cy="367.8" r="2.2" fill="#69247d"/>
<circle cx="80.77" cy="367.5" r="2.2" fill="#69247e"/>
<circle cx="188.50" cy="341.4" r="2.2" fill="#3b0985"/>
<circle cx="319.32" cy="328.4" r="2.2" fill="#00008b"/>
<line x1="30.7" y1="458.9" x2="638.6" y2="458.9" stroke="#a52a2a" stroke-width="1.55" stroke-dasharray="6.6 2.0" stroke-dashoffset="0.3"/>
<rect x="30.7" y="321.6" width="607.9" height="166.6" fill="none" stroke="#333" stroke-width="1.15"/>
<line x1="27.4" y1="338.4" x2="30.7" y2="338.4" class="tc"/>
<text x="26.3" y="342.04999999999995" class="tcy" text-anchor="end">10</text>
<line x1="27.4" y1="458.9" x2="30.7" y2="458.9" class="tc"/>
<text x="26.3" y="462.54999999999995" class="tcy" text-anchor="end">1</text>
<line x1="34.60" y1="488.2" x2="34.60" y2="490.59999999999997" class="tc"/>
<text transform="translate(36.85,493.0) rotate(-90)" class="tcx" text-anchor="end">ACP5</text>
<line x1="42.30" y1="488.2" x2="42.30" y2="490.59999999999997" class="tc"/>
<text transform="translate(44.55,493.0) rotate(-90)" class="tcx" text-anchor="end">ADM</text>
<line x1="49.99" y1="488.2" x2="49.99" y2="490.59999999999997" class="tc"/>
<text transform="translate(52.24,493.0) rotate(-90)" class="tcx" text-anchor="end">AREG</text>
<line x1="57.69" y1="488.2" x2="57.69" y2="490.59999999999997" class="tc"/>
<text transform="translate(59.94,493.0) rotate(-90)" class="tcx" text-anchor="end">BSG</text>
<line x1="65.38" y1="488.2" x2="65.38" y2="490.59999999999997" class="tc"/>
<text transform="translate(67.63,493.0) rotate(-90)" class="tcx" text-anchor="end">CA9</text>
<line x1="73.08" y1="488.2" x2="73.08" y2="490.59999999999997" class="tc"/>
<text transform="translate(75.33,493.0) rotate(-90)" class="tcx" text-anchor="end">CASP3</text>
<line x1="80.77" y1="488.2" x2="80.77" y2="490.59999999999997" class="tc"/>
<text transform="translate(83.02,493.0) rotate(-90)" class="tcx" text-anchor="end">CCL19</text>
<line x1="88.47" y1="488.2" x2="88.47" y2="490.59999999999997" class="tc"/>
<text transform="translate(90.72,493.0) rotate(-90)" class="tcx" text-anchor="end">CCL2</text>
<line x1="96.16" y1="488.2" x2="96.16" y2="490.59999999999997" class="tc"/>
<text transform="translate(98.41,493.0) rotate(-90)" class="tcx" text-anchor="end">CCL21</text>
<line x1="103.85" y1="488.2" x2="103.85" y2="490.59999999999997" class="tc"/>
<text transform="translate(106.10,493.0) rotate(-90)" class="tcx" text-anchor="end">CCL24</text>
<line x1="111.55" y1="488.2" x2="111.55" y2="490.59999999999997" class="tc"/>
<text transform="translate(113.80,493.0) rotate(-90)" class="tcx" text-anchor="end">CD40LG</text>
<line x1="119.25" y1="488.2" x2="119.25" y2="490.59999999999997" class="tc"/>
<text transform="translate(121.50,493.0) rotate(-90)" class="tcx" text-anchor="end">CD69</text>
<line x1="126.94" y1="488.2" x2="126.94" y2="490.59999999999997" class="tc"/>
<text transform="translate(129.19,493.0) rotate(-90)" class="tcx" text-anchor="end">CEACAM5</text>
<line x1="134.63" y1="488.2" x2="134.63" y2="490.59999999999997" class="tc"/>
<text transform="translate(136.88,493.0) rotate(-90)" class="tcx" text-anchor="end">CSF1</text>
<line x1="142.33" y1="488.2" x2="142.33" y2="490.59999999999997" class="tc"/>
<text transform="translate(144.58,493.0) rotate(-90)" class="tcx" text-anchor="end">CSTB</text>
<line x1="150.03" y1="488.2" x2="150.03" y2="490.59999999999997" class="tc"/>
<text transform="translate(152.28,493.0) rotate(-90)" class="tcx" text-anchor="end">CTSD</text>
<line x1="157.72" y1="488.2" x2="157.72" y2="490.59999999999997" class="tc"/>
<text transform="translate(159.97,493.0) rotate(-90)" class="tcx" text-anchor="end">CXCL10</text>
<line x1="165.41" y1="488.2" x2="165.41" y2="490.59999999999997" class="tc"/>
<text transform="translate(167.66,493.0) rotate(-90)" class="tcx" text-anchor="end">CXCL11</text>
<line x1="173.11" y1="488.2" x2="173.11" y2="490.59999999999997" class="tc"/>
<text transform="translate(175.36,493.0) rotate(-90)" class="tcx" text-anchor="end">CXCL13</text>
<line x1="180.81" y1="488.2" x2="180.81" y2="490.59999999999997" class="tc"/>
<text transform="translate(183.06,493.0) rotate(-90)" class="tcx" text-anchor="end">CXCL5</text>
<line x1="188.50" y1="488.2" x2="188.50" y2="490.59999999999997" class="tc"/>
<text transform="translate(190.75,493.0) rotate(-90)" class="tcx" text-anchor="end">CXCL8</text>
<line x1="196.19" y1="488.2" x2="196.19" y2="490.59999999999997" class="tc"/>
<text transform="translate(198.44,493.0) rotate(-90)" class="tcx" text-anchor="end">CXCL9</text>
<line x1="203.89" y1="488.2" x2="203.89" y2="490.59999999999997" class="tc"/>
<text transform="translate(206.14,493.0) rotate(-90)" class="tcx" text-anchor="end">EGF</text>
<line x1="211.59" y1="488.2" x2="211.59" y2="490.59999999999997" class="tc"/>
<text transform="translate(213.84,493.0) rotate(-90)" class="tcx" text-anchor="end">EGFR</text>
<line x1="219.28" y1="488.2" x2="219.28" y2="490.59999999999997" class="tc"/>
<text transform="translate(221.53,493.0) rotate(-90)" class="tcx" text-anchor="end">EPCAM</text>
<line x1="226.97" y1="488.2" x2="226.97" y2="490.59999999999997" class="tc"/>
<text transform="translate(229.22,493.0) rotate(-90)" class="tcx" text-anchor="end">ERBB2</text>
<line x1="234.67" y1="488.2" x2="234.67" y2="490.59999999999997" class="tc"/>
<text transform="translate(236.92,493.0) rotate(-90)" class="tcx" text-anchor="end">ERBB3</text>
<line x1="242.37" y1="488.2" x2="242.37" y2="490.59999999999997" class="tc"/>
<text transform="translate(244.62,493.0) rotate(-90)" class="tcx" text-anchor="end">ERBB4</text>
<line x1="250.06" y1="488.2" x2="250.06" y2="490.59999999999997" class="tc"/>
<text transform="translate(252.31,493.0) rotate(-90)" class="tcx" text-anchor="end">F3</text>
<line x1="257.75" y1="488.2" x2="257.75" y2="490.59999999999997" class="tc"/>
<text transform="translate(260.00,493.0) rotate(-90)" class="tcx" text-anchor="end">FABP4</text>
<line x1="265.45" y1="488.2" x2="265.45" y2="490.59999999999997" class="tc"/>
<text transform="translate(267.70,493.0) rotate(-90)" class="tcx" text-anchor="end">FAS</text>
<line x1="273.15" y1="488.2" x2="273.15" y2="490.59999999999997" class="tc"/>
<text transform="translate(275.40,493.0) rotate(-90)" class="tcx" text-anchor="end">FASLG</text>
<line x1="280.84" y1="488.2" x2="280.84" y2="490.59999999999997" class="tc"/>
<text transform="translate(283.09,493.0) rotate(-90)" class="tcx" text-anchor="end">FIGF</text>
<line x1="288.54" y1="488.2" x2="288.54" y2="490.59999999999997" class="tc"/>
<text transform="translate(290.79,493.0) rotate(-90)" class="tcx" text-anchor="end">FLT3LG</text>
<line x1="296.23" y1="488.2" x2="296.23" y2="490.59999999999997" class="tc"/>
<text transform="translate(298.48,493.0) rotate(-90)" class="tcx" text-anchor="end">FOLR1</text>
<line x1="303.93" y1="488.2" x2="303.93" y2="490.59999999999997" class="tc"/>
<text transform="translate(306.18,493.0) rotate(-90)" class="tcx" text-anchor="end">FST</text>
<line x1="311.62" y1="488.2" x2="311.62" y2="490.59999999999997" class="tc"/>
<text transform="translate(313.87,493.0) rotate(-90)" class="tcx" text-anchor="end">GDF15</text>
<line x1="319.32" y1="488.2" x2="319.32" y2="490.59999999999997" class="tc"/>
<text transform="translate(321.57,493.0) rotate(-90)" class="tcx" text-anchor="end">GH1</text>
<line x1="327.01" y1="488.2" x2="327.01" y2="490.59999999999997" class="tc"/>
<text transform="translate(329.26,493.0) rotate(-90)" class="tcx" text-anchor="end">HBEGF</text>
<line x1="334.71" y1="488.2" x2="334.71" y2="490.59999999999997" class="tc"/>
<text transform="translate(336.96,493.0) rotate(-90)" class="tcx" text-anchor="end">HGF</text>
<line x1="342.40" y1="488.2" x2="342.40" y2="490.59999999999997" class="tc"/>
<text transform="translate(344.65,493.0) rotate(-90)" class="tcx" text-anchor="end">IL12B</text>
<line x1="350.10" y1="488.2" x2="350.10" y2="490.59999999999997" class="tc"/>
<text transform="translate(352.35,493.0) rotate(-90)" class="tcx" text-anchor="end">IL17RB</text>
<line x1="357.79" y1="488.2" x2="357.79" y2="490.59999999999997" class="tc"/>
<text transform="translate(360.04,493.0) rotate(-90)" class="tcx" text-anchor="end">IL1RN</text>
<line x1="365.49" y1="488.2" x2="365.49" y2="490.59999999999997" class="tc"/>
<text transform="translate(367.74,493.0) rotate(-90)" class="tcx" text-anchor="end">IL2RA</text>
<line x1="373.18" y1="488.2" x2="373.18" y2="490.59999999999997" class="tc"/>
<text transform="translate(375.43,493.0) rotate(-90)" class="tcx" text-anchor="end">IL6</text>
<line x1="380.88" y1="488.2" x2="380.88" y2="490.59999999999997" class="tc"/>
<text transform="translate(383.13,493.0) rotate(-90)" class="tcx" text-anchor="end">IL6R</text>
<line x1="388.57" y1="488.2" x2="388.57" y2="490.59999999999997" class="tc"/>
<text transform="translate(390.82,493.0) rotate(-90)" class="tcx" text-anchor="end">IL7</text>
<line x1="396.27" y1="488.2" x2="396.27" y2="490.59999999999997" class="tc"/>
<text transform="translate(398.52,493.0) rotate(-90)" class="tcx" text-anchor="end">KDR</text>
<line x1="403.96" y1="488.2" x2="403.96" y2="490.59999999999997" class="tc"/>
<text transform="translate(406.21,493.0) rotate(-90)" class="tcx" text-anchor="end">KITLG</text>
<line x1="411.66" y1="488.2" x2="411.66" y2="490.59999999999997" class="tc"/>
<text transform="translate(413.91,493.0) rotate(-90)" class="tcx" text-anchor="end">KLK11</text>
<line x1="419.35" y1="488.2" x2="419.35" y2="490.59999999999997" class="tc"/>
<text transform="translate(421.60,493.0) rotate(-90)" class="tcx" text-anchor="end">KLK6</text>
<line x1="427.05" y1="488.2" x2="427.05" y2="490.59999999999997" class="tc"/>
<text transform="translate(429.30,493.0) rotate(-90)" class="tcx" text-anchor="end">LGALS3</text>
<line x1="434.74" y1="488.2" x2="434.74" y2="490.59999999999997" class="tc"/>
<text transform="translate(436.99,493.0) rotate(-90)" class="tcx" text-anchor="end">MDK</text>
<line x1="442.44" y1="488.2" x2="442.44" y2="490.59999999999997" class="tc"/>
<text transform="translate(444.69,493.0) rotate(-90)" class="tcx" text-anchor="end">MET</text>
<line x1="450.13" y1="488.2" x2="450.13" y2="490.59999999999997" class="tc"/>
<text transform="translate(452.38,493.0) rotate(-90)" class="tcx" text-anchor="end">MIA</text>
<line x1="457.83" y1="488.2" x2="457.83" y2="490.59999999999997" class="tc"/>
<text transform="translate(460.08,493.0) rotate(-90)" class="tcx" text-anchor="end">MICA</text>
<line x1="465.52" y1="488.2" x2="465.52" y2="490.59999999999997" class="tc"/>
<text transform="translate(467.77,493.0) rotate(-90)" class="tcx" text-anchor="end">MPO</text>
<line x1="473.22" y1="488.2" x2="473.22" y2="490.59999999999997" class="tc"/>
<text transform="translate(475.47,493.0) rotate(-90)" class="tcx" text-anchor="end">MYD88</text>
<line x1="480.91" y1="488.2" x2="480.91" y2="490.59999999999997" class="tc"/>
<text transform="translate(483.16,493.0) rotate(-90)" class="tcx" text-anchor="end">PDGFB</text>
<line x1="488.61" y1="488.2" x2="488.61" y2="490.59999999999997" class="tc"/>
<text transform="translate(490.86,493.0) rotate(-90)" class="tcx" text-anchor="end">PECAM1</text>
<line x1="496.30" y1="488.2" x2="496.30" y2="490.59999999999997" class="tc"/>
<text transform="translate(498.55,493.0) rotate(-90)" class="tcx" text-anchor="end">PLAUR</text>
<line x1="504.00" y1="488.2" x2="504.00" y2="490.59999999999997" class="tc"/>
<text transform="translate(506.25,493.0) rotate(-90)" class="tcx" text-anchor="end">PLGF</text>
<line x1="511.69" y1="488.2" x2="511.69" y2="490.59999999999997" class="tc"/>
<text transform="translate(513.94,493.0) rotate(-90)" class="tcx" text-anchor="end">PRL</text>
<line x1="519.38" y1="488.2" x2="519.38" y2="490.59999999999997" class="tc"/>
<text transform="translate(521.63,493.0) rotate(-90)" class="tcx" text-anchor="end">PRSS8</text>
<line x1="527.08" y1="488.2" x2="527.08" y2="490.59999999999997" class="tc"/>
<text transform="translate(529.33,493.0) rotate(-90)" class="tcx" text-anchor="end">REG4</text>
<line x1="534.77" y1="488.2" x2="534.77" y2="490.59999999999997" class="tc"/>
<text transform="translate(537.02,493.0) rotate(-90)" class="tcx" text-anchor="end">SELE</text>
<line x1="542.47" y1="488.2" x2="542.47" y2="490.59999999999997" class="tc"/>
<text transform="translate(544.72,493.0) rotate(-90)" class="tcx" text-anchor="end">TEK</text>
<line x1="550.17" y1="488.2" x2="550.17" y2="490.59999999999997" class="tc"/>
<text transform="translate(552.42,493.0) rotate(-90)" class="tcx" text-anchor="end">TGFA</text>
<line x1="557.86" y1="488.2" x2="557.86" y2="490.59999999999997" class="tc"/>
<text transform="translate(560.11,493.0) rotate(-90)" class="tcx" text-anchor="end">TGFB1</text>
<line x1="565.56" y1="488.2" x2="565.56" y2="490.59999999999997" class="tc"/>
<text transform="translate(567.81,493.0) rotate(-90)" class="tcx" text-anchor="end">THPO</text>
<line x1="573.25" y1="488.2" x2="573.25" y2="490.59999999999997" class="tc"/>
<text transform="translate(575.50,493.0) rotate(-90)" class="tcx" text-anchor="end">TNFRSF11B</text>
<line x1="580.95" y1="488.2" x2="580.95" y2="490.59999999999997" class="tc"/>
<text transform="translate(583.20,493.0) rotate(-90)" class="tcx" text-anchor="end">TNFRSF1A</text>
<line x1="588.64" y1="488.2" x2="588.64" y2="490.59999999999997" class="tc"/>
<text transform="translate(590.89,493.0) rotate(-90)" class="tcx" text-anchor="end">TNFRSF1B</text>
<line x1="596.34" y1="488.2" x2="596.34" y2="490.59999999999997" class="tc"/>
<text transform="translate(598.59,493.0) rotate(-90)" class="tcx" text-anchor="end">TNFRSF4</text>
<line x1="604.03" y1="488.2" x2="604.03" y2="490.59999999999997" class="tc"/>
<text transform="translate(606.28,493.0) rotate(-90)" class="tcx" text-anchor="end">TNFSF13B</text>
<line x1="611.73" y1="488.2" x2="611.73" y2="490.59999999999997" class="tc"/>
<text transform="translate(613.98,493.0) rotate(-90)" class="tcx" text-anchor="end">TNFSF14</text>
<line x1="619.42" y1="488.2" x2="619.42" y2="490.59999999999997" class="tc"/>
<text transform="translate(621.67,493.0) rotate(-90)" class="tcx" text-anchor="end">TNFSF8</text>
<line x1="627.12" y1="488.2" x2="627.12" y2="490.59999999999997" class="tc"/>
<text transform="translate(629.37,493.0) rotate(-90)" class="tcx" text-anchor="end">VEGFA</text>
<line x1="634.81" y1="488.2" x2="634.81" y2="490.59999999999997" class="tc"/>
<text transform="translate(637.06,493.0) rotate(-90)" class="tcx" text-anchor="end">WFDC2</text>
<text x="334.5" y="541.6" class="tic" text-anchor="middle">Protein (Gene Name)</text>
<text transform="translate(7.0,404.6) rotate(-90)" class="tic" text-anchor="middle">Ratio of Variance (Biological/Technical)</text>
<text x="0.6" y="310.1" class="pl">c</text>
<text x="652.8" y="371.6" class="ltc">Ratio</text>
<rect x="653" y="375.6" width="14" height="70" fill="url(#gr)"/>
<line x1="653" y1="377.3" x2="655.8" y2="377.3" stroke="#fff" stroke-width="1.0"/>
<line x1="664.2" y1="377.3" x2="667" y2="377.3" stroke="#fff" stroke-width="1.0"/>
<line x1="653" y1="442.6" x2="655.8" y2="442.6" stroke="#fff" stroke-width="1.0"/>
<line x1="664.2" y1="442.6" x2="667" y2="442.6" stroke="#fff" stroke-width="1.0"/>
<text x="670.2" y="379.9" class="llc">high</text>
<text x="670.2" y="445.2" class="llc">low</text>
</svg>
</body>
</html>
